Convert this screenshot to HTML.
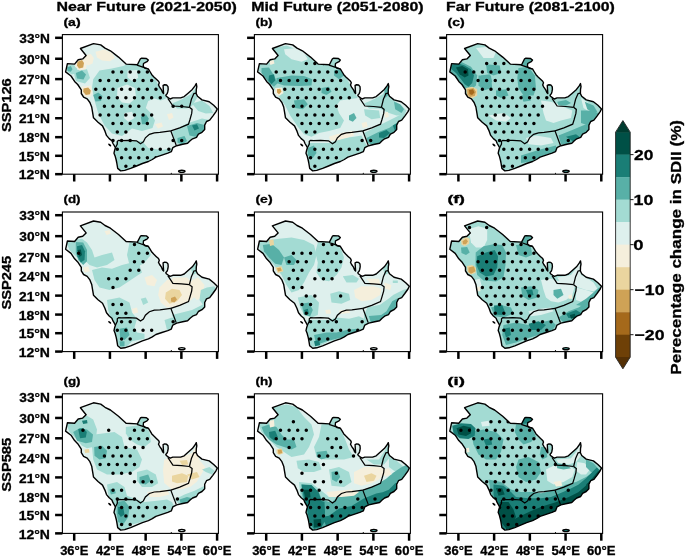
<!DOCTYPE html><html><head><meta charset="utf-8"><style>
html,body{margin:0;padding:0;background:#fff;}
svg{display:block;}
.t{will-change:transform;}
text{font-family:"Liberation Sans",sans-serif;font-weight:bold;fill:#000;stroke:#000;stroke-width:0.3px;}
</style></head><body>
<svg width="685" height="556" viewBox="0 0 685 556">
<defs>
<clipPath id="land"><path d="M67.4,63.6 L74.6,64.1 L78.2,59.8 L82.7,58.9 L86.1,55.5 L80.4,48.5 L93.5,43.6 L100.7,44.9 L105.0,48.1 L110.4,50.8 L118.5,57.1 L126.1,64.1 L137.4,64.7 L140.4,58.8 L141.7,58.2 L146.4,58.5 L148.3,60.1 L147.0,61.7 L145.1,62.6 L143.5,63.5 L143.2,66.4 L145.1,68.3 L148.3,68.9 L150.2,72.0 L151.8,74.7 L153.9,76.9 L156.1,79.0 L158.5,81.2 L159.3,82.8 L158.5,85.0 L159.6,87.1 L161.5,89.8 L162.6,92.5 L163.6,93.5 L163.3,89.0 L163.1,85.5 L164.7,84.7 L166.6,85.0 L168.0,86.6 L168.2,89.3 L167.7,92.0 L167.2,93.6 L165.8,95.2 L166.3,96.3 L168.5,97.9 L170.1,99.0 L172.8,97.9 L175.2,97.9 L180.6,97.9 L184.2,96.6 L187.8,93.4 L192.3,89.4 L195.0,85.8 L196.3,83.5 L196.8,86.7 L196.3,89.4 L196.2,93.6 L197.5,96.3 L202.0,99.9 L209.2,101.7 L213.7,105.3 L217.3,108.9 L216.0,111.6 L212.8,116.1 L209.7,120.2 L206.5,121.5 L204.7,125.1 L204.7,129.6 L202.0,132.3 L198.4,134.1 L196.5,137.3 L192.6,138.8 L190.1,140.8 L187.6,143.3 L182.7,144.3 L176.7,145.7 L172.8,147.7 L171.3,151.7 L167.8,153.2 L161.9,155.1 L155.9,157.1 L152.3,159.5 L148.4,161.5 L142.4,163.5 L136.5,166.0 L130.6,168.4 L124.7,170.4 L120.7,170.9 L117.7,168.4 L116.7,162.5 L116.2,160.0 L115.1,155.9 L114.0,153.2 L114.6,150.5 L115.4,147.8 L114.6,146.2 L113.0,143.5 L111.9,140.8 L109.2,138.6 L106.5,135.4 L104.9,130.9 L102.5,125.9 L98.0,122.3 L93.5,117.8 L92.6,112.4 L91.7,107.0 L89.9,102.5 L87.2,98.9 L83.6,97.1 L81.3,93.5 L81.3,89.9 L77.7,84.5 L74.6,81.4 L71.0,76.0 L65.6,71.9Z"/></clipPath>
<clipPath id="frame"><rect x="62.4" y="34.6" width="156.0" height="139.6"/></clipPath>
</defs>

<g transform="translate(0,0)">
<g clip-path="url(#land)"><rect x="62.4" y="34.6" width="156.0" height="139.6" fill="#def0ed"/>
<path d="M135.8,56.8 L149.5,56.8 L149.5,68.0 L135.8,65.5Z" fill="#a3dbd3"/>
<path d="M93.2,79.2 L99.5,70.5 L112.0,68.5 L123.2,66.0 L127.5,64.0 L144.5,64.5 L148.2,69.2 L154.5,78.0 L160.8,89.2 L167.0,98.0 L160.8,100.5 L154.5,98.5 L148.2,101.0 L145.8,108.0 L150.8,113.0 L155.0,120.5 L152.5,128.0 L142.0,131.0 L132.0,128.5 L122.0,136.0 L112.0,133.5 L104.5,125.5 L98.2,113.0 L94.5,100.5 L92.0,88.0Z" fill="#a3dbd3"/>
<path d="M115.8,141.8 L142.0,141.0 L148.2,148.0 L162.0,150.0 L172.0,148.0 L177.5,144.2 L179.5,151.0 L172.0,158.0 L157.0,163.0 L144.5,166.8 L132.0,170.5 L119.5,170.5 L114.5,158.0Z" fill="#a3dbd3"/>
<path d="M172.0,131.8 L187.0,123.5 L202.0,118.5 L212.0,120.5 L207.0,133.0 L202.0,138.5 L192.0,143.5 L182.0,146.0 L175.8,143.0Z" fill="#a3dbd3"/>
<path d="M172.0,103.5 L182.0,99.2 L190.8,94.2 L195.8,88.0 L197.0,98.0 L192.0,106.0 L187.0,108.5 L177.0,108.5Z" fill="#a3dbd3"/>
<path d="M192.0,103.5 L202.0,100.5 L209.5,106.0 L213.2,113.0 L205.8,113.5 L198.2,111.0Z" fill="#a3dbd3"/>
<path d="M73.2,70.0 L87.0,69.2 L90.0,78.0 L85.0,83.5 L75.8,81.0Z" fill="#a3dbd3"/>
<path d="M66.5,66.0 L72.0,64.2 L77.0,66.8 L77.0,73.0 L72.0,74.5 L67.5,72.0Z" fill="#a3dbd3"/>
<path d="M117.5,88.0 L127.0,84.5 L135.0,88.0 L136.0,98.0 L129.5,103.5 L122.0,102.5 L117.0,96.8Z" fill="#def0ed"/>
<path d="M127.5,70.5 L137.0,70.0 L138.2,78.0 L132.0,81.0 L127.5,77.5Z" fill="#def0ed"/>
<path d="M124.5,113.0 L132.0,111.8 L134.5,118.0 L128.2,121.8 L124.0,118.0Z" fill="#def0ed"/>
<path d="M93.2,95.0 L98.2,92.5 L102.5,96.0 L101.0,101.0 L95.5,101.5Z" fill="#58b0a7"/>
<path d="M140.8,116.8 L145.8,114.2 L148.8,118.5 L147.0,124.2 L142.0,124.2Z" fill="#58b0a7"/>
<path d="M75.8,73.0 L82.0,70.5 L86.0,74.5 L83.5,79.5 L77.0,78.5Z" fill="#58b0a7"/>
<path d="M187.0,126.0 L197.0,123.0 L206.2,125.5 L204.5,133.5 L197.0,137.0 L189.5,135.5Z" fill="#58b0a7"/>
<path d="M177.5,138.0 L184.5,136.0 L187.0,141.0 L182.0,144.5 L177.5,142.5Z" fill="#58b0a7"/>
<path d="M67.0,67.5 L70.8,66.0 L72.5,69.2 L70.8,71.8 L67.5,71.0Z" fill="#58b0a7"/>
<path d="M192.0,125.5 L197.0,124.2 L199.0,128.5 L194.5,130.5Z" fill="#1a7e76"/>
<path d="M95.5,51.8 L104.5,49.5 L112.0,53.0 L115.0,58.0 L110.0,61.2 L102.0,60.5 L97.0,57.5Z" fill="#f5efdc"/>
<path d="M84.5,55.5 L90.8,54.0 L93.8,58.0 L92.5,63.5 L88.0,65.5 L84.5,62.0Z" fill="#f5efdc"/>
<path d="M167.0,114.2 L172.0,113.0 L173.5,117.5 L169.0,120.0Z" fill="#f5efdc"/>
<path d="M155.0,124.2 L161.5,122.5 L163.0,126.5 L158.0,128.5Z" fill="#f5efdc"/>
<path d="M75.8,59.2 L84.5,58.0 L87.0,63.0 L85.8,69.2 L79.5,70.5 L75.0,66.8Z" fill="#f5efdc"/>
<path d="M81.5,86.8 L90.8,85.5 L92.5,91.8 L90.8,96.8 L84.0,96.8 L81.5,91.8Z" fill="#f5efdc"/>
<path d="M77.5,61.8 L82.0,60.0 L84.0,63.0 L83.2,67.5 L79.0,68.5 L77.0,65.5Z" fill="#cfa256"/>
<path d="M83.5,88.5 L88.2,87.5 L90.8,90.5 L90.0,94.2 L85.8,95.0 L83.2,91.8Z" fill="#cfa256"/>
</g>
<path d="M111.25,72.00a1.75,1.75 0 1,0 3.5,0a1.75,1.75 0 1,0 -3.5,0M119.84,72.00a1.75,1.75 0 1,0 3.5,0a1.75,1.75 0 1,0 -3.5,0M128.43,72.00a1.75,1.75 0 1,0 3.5,0a1.75,1.75 0 1,0 -3.5,0M137.02,72.00a1.75,1.75 0 1,0 3.5,0a1.75,1.75 0 1,0 -3.5,0M145.61,72.00a1.75,1.75 0 1,0 3.5,0a1.75,1.75 0 1,0 -3.5,0M98.37,80.58a1.75,1.75 0 1,0 3.5,0a1.75,1.75 0 1,0 -3.5,0M106.95,80.58a1.75,1.75 0 1,0 3.5,0a1.75,1.75 0 1,0 -3.5,0M115.55,80.58a1.75,1.75 0 1,0 3.5,0a1.75,1.75 0 1,0 -3.5,0M124.14,80.58a1.75,1.75 0 1,0 3.5,0a1.75,1.75 0 1,0 -3.5,0M132.72,80.58a1.75,1.75 0 1,0 3.5,0a1.75,1.75 0 1,0 -3.5,0M141.31,80.58a1.75,1.75 0 1,0 3.5,0a1.75,1.75 0 1,0 -3.5,0M149.91,80.58a1.75,1.75 0 1,0 3.5,0a1.75,1.75 0 1,0 -3.5,0M94.07,89.15a1.75,1.75 0 1,0 3.5,0a1.75,1.75 0 1,0 -3.5,0M102.66,89.15a1.75,1.75 0 1,0 3.5,0a1.75,1.75 0 1,0 -3.5,0M111.25,89.15a1.75,1.75 0 1,0 3.5,0a1.75,1.75 0 1,0 -3.5,0M119.84,89.15a1.75,1.75 0 1,0 3.5,0a1.75,1.75 0 1,0 -3.5,0M128.43,89.15a1.75,1.75 0 1,0 3.5,0a1.75,1.75 0 1,0 -3.5,0M137.02,89.15a1.75,1.75 0 1,0 3.5,0a1.75,1.75 0 1,0 -3.5,0M145.61,89.15a1.75,1.75 0 1,0 3.5,0a1.75,1.75 0 1,0 -3.5,0M154.20,89.15a1.75,1.75 0 1,0 3.5,0a1.75,1.75 0 1,0 -3.5,0M98.37,97.72a1.75,1.75 0 1,0 3.5,0a1.75,1.75 0 1,0 -3.5,0M106.95,97.72a1.75,1.75 0 1,0 3.5,0a1.75,1.75 0 1,0 -3.5,0M115.55,97.72a1.75,1.75 0 1,0 3.5,0a1.75,1.75 0 1,0 -3.5,0M124.14,97.72a1.75,1.75 0 1,0 3.5,0a1.75,1.75 0 1,0 -3.5,0M132.72,97.72a1.75,1.75 0 1,0 3.5,0a1.75,1.75 0 1,0 -3.5,0M141.31,97.72a1.75,1.75 0 1,0 3.5,0a1.75,1.75 0 1,0 -3.5,0M149.91,97.72a1.75,1.75 0 1,0 3.5,0a1.75,1.75 0 1,0 -3.5,0M158.50,97.72a1.75,1.75 0 1,0 3.5,0a1.75,1.75 0 1,0 -3.5,0M102.66,106.30a1.75,1.75 0 1,0 3.5,0a1.75,1.75 0 1,0 -3.5,0M111.25,106.30a1.75,1.75 0 1,0 3.5,0a1.75,1.75 0 1,0 -3.5,0M119.84,106.30a1.75,1.75 0 1,0 3.5,0a1.75,1.75 0 1,0 -3.5,0M128.43,106.30a1.75,1.75 0 1,0 3.5,0a1.75,1.75 0 1,0 -3.5,0M137.02,106.30a1.75,1.75 0 1,0 3.5,0a1.75,1.75 0 1,0 -3.5,0M171.38,106.30a1.75,1.75 0 1,0 3.5,0a1.75,1.75 0 1,0 -3.5,0M179.97,106.30a1.75,1.75 0 1,0 3.5,0a1.75,1.75 0 1,0 -3.5,0M98.37,114.88a1.75,1.75 0 1,0 3.5,0a1.75,1.75 0 1,0 -3.5,0M106.95,114.88a1.75,1.75 0 1,0 3.5,0a1.75,1.75 0 1,0 -3.5,0M115.55,114.88a1.75,1.75 0 1,0 3.5,0a1.75,1.75 0 1,0 -3.5,0M124.14,114.88a1.75,1.75 0 1,0 3.5,0a1.75,1.75 0 1,0 -3.5,0M132.72,114.88a1.75,1.75 0 1,0 3.5,0a1.75,1.75 0 1,0 -3.5,0M141.31,114.88a1.75,1.75 0 1,0 3.5,0a1.75,1.75 0 1,0 -3.5,0M149.91,114.88a1.75,1.75 0 1,0 3.5,0a1.75,1.75 0 1,0 -3.5,0M111.25,123.45a1.75,1.75 0 1,0 3.5,0a1.75,1.75 0 1,0 -3.5,0M119.84,123.45a1.75,1.75 0 1,0 3.5,0a1.75,1.75 0 1,0 -3.5,0M128.43,123.45a1.75,1.75 0 1,0 3.5,0a1.75,1.75 0 1,0 -3.5,0M137.02,123.45a1.75,1.75 0 1,0 3.5,0a1.75,1.75 0 1,0 -3.5,0M145.61,123.45a1.75,1.75 0 1,0 3.5,0a1.75,1.75 0 1,0 -3.5,0M115.55,132.02a1.75,1.75 0 1,0 3.5,0a1.75,1.75 0 1,0 -3.5,0M124.14,132.02a1.75,1.75 0 1,0 3.5,0a1.75,1.75 0 1,0 -3.5,0M111.25,140.60a1.75,1.75 0 1,0 3.5,0a1.75,1.75 0 1,0 -3.5,0M119.84,140.60a1.75,1.75 0 1,0 3.5,0a1.75,1.75 0 1,0 -3.5,0M128.43,140.60a1.75,1.75 0 1,0 3.5,0a1.75,1.75 0 1,0 -3.5,0M171.38,140.60a1.75,1.75 0 1,0 3.5,0a1.75,1.75 0 1,0 -3.5,0M179.97,140.60a1.75,1.75 0 1,0 3.5,0a1.75,1.75 0 1,0 -3.5,0M115.55,149.18a1.75,1.75 0 1,0 3.5,0a1.75,1.75 0 1,0 -3.5,0M124.14,149.18a1.75,1.75 0 1,0 3.5,0a1.75,1.75 0 1,0 -3.5,0M132.72,149.18a1.75,1.75 0 1,0 3.5,0a1.75,1.75 0 1,0 -3.5,0M141.31,149.18a1.75,1.75 0 1,0 3.5,0a1.75,1.75 0 1,0 -3.5,0M149.91,149.18a1.75,1.75 0 1,0 3.5,0a1.75,1.75 0 1,0 -3.5,0M158.50,149.18a1.75,1.75 0 1,0 3.5,0a1.75,1.75 0 1,0 -3.5,0M167.09,149.18a1.75,1.75 0 1,0 3.5,0a1.75,1.75 0 1,0 -3.5,0M175.68,149.18a1.75,1.75 0 1,0 3.5,0a1.75,1.75 0 1,0 -3.5,0M119.84,157.75a1.75,1.75 0 1,0 3.5,0a1.75,1.75 0 1,0 -3.5,0M128.43,157.75a1.75,1.75 0 1,0 3.5,0a1.75,1.75 0 1,0 -3.5,0M137.02,157.75a1.75,1.75 0 1,0 3.5,0a1.75,1.75 0 1,0 -3.5,0M145.61,157.75a1.75,1.75 0 1,0 3.5,0a1.75,1.75 0 1,0 -3.5,0M154.20,157.75a1.75,1.75 0 1,0 3.5,0a1.75,1.75 0 1,0 -3.5,0M124.14,166.32a1.75,1.75 0 1,0 3.5,0a1.75,1.75 0 1,0 -3.5,0M132.72,166.32a1.75,1.75 0 1,0 3.5,0a1.75,1.75 0 1,0 -3.5,0" fill="#000" clip-path="url(#land)"/>
<path d="M67.4,63.6 L74.6,64.1 L78.2,59.8 L82.7,58.9 L86.1,55.5 L80.4,48.5 L93.5,43.6 L100.7,44.9 L105.0,48.1 L110.4,50.8 L118.5,57.1 L126.1,64.1 L137.4,64.7 L140.4,58.8 L141.7,58.2 L146.4,58.5 L148.3,60.1 L147.0,61.7 L145.1,62.6 L143.5,63.5 L143.2,66.4 L145.1,68.3 L148.3,68.9 L150.2,72.0 L151.8,74.7 L153.9,76.9 L156.1,79.0 L158.5,81.2 L159.3,82.8 L158.5,85.0 L159.6,87.1 L161.5,89.8 L162.6,92.5 L163.6,93.5 L163.3,89.0 L163.1,85.5 L164.7,84.7 L166.6,85.0 L168.0,86.6 L168.2,89.3 L167.7,92.0 L167.2,93.6 L165.8,95.2 L166.3,96.3 L168.5,97.9 L170.1,99.0 L172.8,97.9 L175.2,97.9 L180.6,97.9 L184.2,96.6 L187.8,93.4 L192.3,89.4 L195.0,85.8 L196.3,83.5 L196.8,86.7 L196.3,89.4 L196.2,93.6 L197.5,96.3 L202.0,99.9 L209.2,101.7 L213.7,105.3 L217.3,108.9 L216.0,111.6 L212.8,116.1 L209.7,120.2 L206.5,121.5 L204.7,125.1 L204.7,129.6 L202.0,132.3 L198.4,134.1 L196.5,137.3 L192.6,138.8 L190.1,140.8 L187.6,143.3 L182.7,144.3 L176.7,145.7 L172.8,147.7 L171.3,151.7 L167.8,153.2 L161.9,155.1 L155.9,157.1 L152.3,159.5 L148.4,161.5 L142.4,163.5 L136.5,166.0 L130.6,168.4 L124.7,170.4 L120.7,170.9 L117.7,168.4 L116.7,162.5 L116.2,160.0 L115.1,155.9 L114.0,153.2 L114.6,150.5 L115.4,147.8 L114.6,146.2 L113.0,143.5 L111.9,140.8 L109.2,138.6 L106.5,135.4 L104.9,130.9 L102.5,125.9 L98.0,122.3 L93.5,117.8 L92.6,112.4 L91.7,107.0 L89.9,102.5 L87.2,98.9 L83.6,97.1 L81.3,93.5 L81.3,89.9 L77.7,84.5 L74.6,81.4 L71.0,76.0 L65.6,71.9Z" fill="none" stroke="#000" stroke-width="1.4" stroke-linejoin="round"/>
<path d="M137.0,65.1 L148.0,68.9" fill="none" stroke="#000" stroke-width="1.25"/>
<path d="M167.8,98.3 L172.9,106.0 L181.5,106.5 L189.4,107.3" fill="none" stroke="#000" stroke-width="1.25"/>
<path d="M189.4,107.3 L191.4,99.3 L193.9,93.6 L196.2,93.2" fill="none" stroke="#000" stroke-width="1.25"/>
<path d="M189.4,107.3 L192.1,109.4 L191.7,113.4 L189.9,119.7 L188.5,124.2 L179.7,127.9 L170.8,130.9" fill="none" stroke="#000" stroke-width="1.25"/>
<path d="M170.8,130.9 L176.2,145.2" fill="none" stroke="#000" stroke-width="1.25"/>
<path d="M115.4,147.8 L117.3,144.0 L117.3,141.3 L118.6,140.3 L121.6,140.5 L128.6,140.3 L136.5,140.8 L140.5,143.7 L143.4,141.7 L145.4,137.8 L149.4,134.3 L154.3,132.8 L159.9,132.4 L170.8,130.9" fill="none" stroke="#000" stroke-width="1.25"/>
<ellipse cx="181.8" cy="171.3" rx="3.2" ry="1.1" fill="#def0ed" stroke="#000" stroke-width="1.4"/>
<circle cx="171.3" cy="173.3" r="0.6" fill="#000"/>
<ellipse cx="109.7" cy="145.0" rx="1.9" ry="0.9" transform="rotate(40 109.7 145.0)" fill="#000"/>
<rect x="62.4" y="34.6" width="156.0" height="139.6" fill="none" stroke="#000" stroke-width="1.1"/>
<line x1="55.1" y1="174.17" x2="62.4" y2="174.17" stroke="#000" stroke-width="2.5"/>
<line x1="55.1" y1="155.80" x2="62.4" y2="155.80" stroke="#000" stroke-width="2.5"/>
<line x1="55.1" y1="137.17" x2="62.4" y2="137.17" stroke="#000" stroke-width="2.5"/>
<line x1="55.1" y1="118.22" x2="62.4" y2="118.22" stroke="#000" stroke-width="2.5"/>
<line x1="55.1" y1="98.88" x2="62.4" y2="98.88" stroke="#000" stroke-width="2.5"/>
<line x1="55.1" y1="79.09" x2="62.4" y2="79.09" stroke="#000" stroke-width="2.5"/>
<line x1="55.1" y1="58.76" x2="62.4" y2="58.76" stroke="#000" stroke-width="2.5"/>
<line x1="55.1" y1="37.81" x2="62.4" y2="37.81" stroke="#000" stroke-width="2.5"/>
<line x1="74.20" y1="174.2" x2="74.20" y2="181.5" stroke="#000" stroke-width="2.5"/>
<line x1="109.92" y1="174.2" x2="109.92" y2="181.5" stroke="#000" stroke-width="2.5"/>
<line x1="145.65" y1="174.2" x2="145.65" y2="181.5" stroke="#000" stroke-width="2.5"/>
<line x1="181.37" y1="174.2" x2="181.37" y2="181.5" stroke="#000" stroke-width="2.5"/>
<line x1="217.10" y1="174.2" x2="217.10" y2="181.5" stroke="#000" stroke-width="2.5"/>
</g>
<g transform="translate(192.0,0)">
<g clip-path="url(#land)"><rect x="62.4" y="34.6" width="156.0" height="139.6" fill="#def0ed"/>
<path d="M135.8,56.8 L149.5,56.8 L149.5,68.0 L135.8,65.5Z" fill="#a3dbd3"/>
<path d="M66.5,64.2 L77.0,61.8 L80.8,48.0 L94.5,45.5 L107.0,50.5 L122.0,60.5 L127.0,64.0 L144.5,64.5 L148.2,69.2 L154.5,78.0 L160.8,89.2 L165.8,98.0 L157.0,99.2 L148.2,100.5 L144.5,105.5 L147.0,113.0 L152.0,120.5 L148.2,128.0 L137.0,131.0 L127.0,133.0 L119.5,136.8 L112.0,134.2 L105.8,126.8 L98.2,115.5 L93.2,105.5 L87.0,96.8 L79.5,85.5 L72.0,75.5 L66.5,70.5Z" fill="#a3dbd3"/>
<path d="M115.8,143.0 L137.0,143.0 L144.5,140.5 L152.0,138.0 L162.0,136.8 L169.5,135.5 L173.2,143.0 L177.0,148.0 L167.0,155.5 L154.5,160.5 L142.0,164.2 L129.5,169.2 L119.5,170.0 L114.5,158.0Z" fill="#a3dbd3"/>
<path d="M172.0,133.0 L187.0,125.5 L202.0,118.0 L212.0,113.0 L214.5,118.0 L207.0,133.0 L202.0,138.5 L192.0,143.5 L182.0,146.0 L175.8,143.0Z" fill="#a3dbd3"/>
<path d="M172.0,103.5 L182.0,99.2 L190.8,94.2 L195.8,85.5 L198.2,95.5 L202.0,100.5 L209.5,105.5 L214.5,110.5 L212.0,115.5 L204.5,115.5 L197.0,113.0 L192.0,110.5 L187.0,108.5 L177.0,108.5Z" fill="#a3dbd3"/>
<path d="M172.0,109.2 L187.0,110.5 L188.2,118.0 L179.5,119.2 L173.2,115.5Z" fill="#a3dbd3"/>
<path d="M92.0,49.2 L104.5,48.0 L112.0,53.0 L115.8,59.2 L109.5,61.8 L99.5,59.2 L93.2,54.2Z" fill="#def0ed"/>
<path d="M69.5,68.0 L77.0,67.5 L82.0,75.5 L85.8,83.0 L82.0,86.8 L77.0,83.0 L73.2,78.0 L69.5,73.0Z" fill="#58b0a7"/>
<path d="M84.5,78.0 L99.5,75.5 L112.0,76.0 L120.2,79.2 L119.5,85.5 L107.0,86.0 L92.0,85.5 L84.5,83.0Z" fill="#58b0a7"/>
<path d="M102.0,100.5 L112.0,99.2 L115.8,104.2 L110.8,109.2 L103.2,108.0Z" fill="#58b0a7"/>
<path d="M129.5,88.0 L137.0,86.8 L139.5,91.8 L134.5,95.0 L129.5,93.0Z" fill="#58b0a7"/>
<path d="M142.0,70.5 L148.2,69.2 L152.0,75.5 L147.0,79.2 L142.0,75.5Z" fill="#58b0a7"/>
<path d="M174.5,138.0 L187.0,131.8 L197.0,128.0 L204.5,123.0 L209.5,120.5 L208.2,130.5 L202.0,136.8 L192.0,143.0 L182.0,145.5 L175.8,143.0Z" fill="#58b0a7"/>
<path d="M202.0,101.8 L208.2,104.2 L212.0,109.2 L209.5,113.0 L203.2,109.2Z" fill="#58b0a7"/>
<path d="M192.0,88.0 L195.8,85.5 L197.0,94.2 L193.2,98.0Z" fill="#58b0a7"/>
<path d="M157.0,115.5 L162.0,113.0 L164.5,118.0 L160.8,121.8 L157.0,120.0Z" fill="#58b0a7"/>
<path d="M115.8,148.0 L122.0,145.5 L124.5,153.0 L120.8,158.0 L115.8,155.5Z" fill="#58b0a7"/>
<path d="M77.0,75.5 L82.0,74.2 L83.2,80.5 L79.5,84.2 L76.5,80.5Z" fill="#1a7e76"/>
<path d="M187.0,133.0 L194.5,130.0 L198.2,133.0 L192.0,138.0 L187.0,137.5Z" fill="#1a7e76"/>
<path d="M200.8,125.5 L205.8,123.0 L207.0,128.0 L203.2,131.0Z" fill="#1a7e76"/>
<path d="M137.0,136.8 L144.5,134.2 L152.0,132.5 L160.8,131.0 L162.0,135.5 L154.5,138.0 L144.5,140.5 L138.2,140.5Z" fill="#f5efdc"/>
<path d="M169.5,123.0 L174.5,121.8 L175.8,126.8 L170.8,128.0Z" fill="#f5efdc"/>
<path d="M192.0,113.0 L195.8,111.8 L197.0,116.8 L193.2,118.0Z" fill="#f5efdc"/>
<path d="M83.2,88.0 L90.0,87.5 L91.5,93.0 L87.0,96.0 L83.2,93.5Z" fill="#f5efdc"/>
<path d="M77.0,61.0 L81.5,60.0 L82.5,63.5 L78.5,65.0Z" fill="#f5efdc"/>
<path d="M85.0,89.2 L88.2,88.8 L89.5,91.8 L87.0,94.2 L85.0,92.5Z" fill="#cfa256"/>
</g>
<path d="M112.52,63.42a1.75,1.75 0 1,0 3.5,0a1.75,1.75 0 1,0 -3.5,0M121.12,63.42a1.75,1.75 0 1,0 3.5,0a1.75,1.75 0 1,0 -3.5,0M129.70,63.42a1.75,1.75 0 1,0 3.5,0a1.75,1.75 0 1,0 -3.5,0M82.46,72.00a1.75,1.75 0 1,0 3.5,0a1.75,1.75 0 1,0 -3.5,0M91.05,72.00a1.75,1.75 0 1,0 3.5,0a1.75,1.75 0 1,0 -3.5,0M99.64,72.00a1.75,1.75 0 1,0 3.5,0a1.75,1.75 0 1,0 -3.5,0M108.23,72.00a1.75,1.75 0 1,0 3.5,0a1.75,1.75 0 1,0 -3.5,0M116.82,72.00a1.75,1.75 0 1,0 3.5,0a1.75,1.75 0 1,0 -3.5,0M125.41,72.00a1.75,1.75 0 1,0 3.5,0a1.75,1.75 0 1,0 -3.5,0M134.00,72.00a1.75,1.75 0 1,0 3.5,0a1.75,1.75 0 1,0 -3.5,0M142.59,72.00a1.75,1.75 0 1,0 3.5,0a1.75,1.75 0 1,0 -3.5,0M86.75,80.58a1.75,1.75 0 1,0 3.5,0a1.75,1.75 0 1,0 -3.5,0M95.35,80.58a1.75,1.75 0 1,0 3.5,0a1.75,1.75 0 1,0 -3.5,0M103.94,80.58a1.75,1.75 0 1,0 3.5,0a1.75,1.75 0 1,0 -3.5,0M112.52,80.58a1.75,1.75 0 1,0 3.5,0a1.75,1.75 0 1,0 -3.5,0M121.12,80.58a1.75,1.75 0 1,0 3.5,0a1.75,1.75 0 1,0 -3.5,0M129.70,80.58a1.75,1.75 0 1,0 3.5,0a1.75,1.75 0 1,0 -3.5,0M138.30,80.58a1.75,1.75 0 1,0 3.5,0a1.75,1.75 0 1,0 -3.5,0M146.88,80.58a1.75,1.75 0 1,0 3.5,0a1.75,1.75 0 1,0 -3.5,0M91.05,89.15a1.75,1.75 0 1,0 3.5,0a1.75,1.75 0 1,0 -3.5,0M99.64,89.15a1.75,1.75 0 1,0 3.5,0a1.75,1.75 0 1,0 -3.5,0M108.23,89.15a1.75,1.75 0 1,0 3.5,0a1.75,1.75 0 1,0 -3.5,0M116.82,89.15a1.75,1.75 0 1,0 3.5,0a1.75,1.75 0 1,0 -3.5,0M125.41,89.15a1.75,1.75 0 1,0 3.5,0a1.75,1.75 0 1,0 -3.5,0M134.00,89.15a1.75,1.75 0 1,0 3.5,0a1.75,1.75 0 1,0 -3.5,0M142.59,89.15a1.75,1.75 0 1,0 3.5,0a1.75,1.75 0 1,0 -3.5,0M151.18,89.15a1.75,1.75 0 1,0 3.5,0a1.75,1.75 0 1,0 -3.5,0M95.35,97.72a1.75,1.75 0 1,0 3.5,0a1.75,1.75 0 1,0 -3.5,0M103.94,97.72a1.75,1.75 0 1,0 3.5,0a1.75,1.75 0 1,0 -3.5,0M112.52,97.72a1.75,1.75 0 1,0 3.5,0a1.75,1.75 0 1,0 -3.5,0M121.12,97.72a1.75,1.75 0 1,0 3.5,0a1.75,1.75 0 1,0 -3.5,0M129.70,97.72a1.75,1.75 0 1,0 3.5,0a1.75,1.75 0 1,0 -3.5,0M138.30,97.72a1.75,1.75 0 1,0 3.5,0a1.75,1.75 0 1,0 -3.5,0M146.88,97.72a1.75,1.75 0 1,0 3.5,0a1.75,1.75 0 1,0 -3.5,0M155.48,97.72a1.75,1.75 0 1,0 3.5,0a1.75,1.75 0 1,0 -3.5,0M99.64,106.30a1.75,1.75 0 1,0 3.5,0a1.75,1.75 0 1,0 -3.5,0M108.23,106.30a1.75,1.75 0 1,0 3.5,0a1.75,1.75 0 1,0 -3.5,0M116.82,106.30a1.75,1.75 0 1,0 3.5,0a1.75,1.75 0 1,0 -3.5,0M125.41,106.30a1.75,1.75 0 1,0 3.5,0a1.75,1.75 0 1,0 -3.5,0M134.00,106.30a1.75,1.75 0 1,0 3.5,0a1.75,1.75 0 1,0 -3.5,0M142.59,106.30a1.75,1.75 0 1,0 3.5,0a1.75,1.75 0 1,0 -3.5,0M103.94,114.88a1.75,1.75 0 1,0 3.5,0a1.75,1.75 0 1,0 -3.5,0M112.52,114.88a1.75,1.75 0 1,0 3.5,0a1.75,1.75 0 1,0 -3.5,0M121.12,114.88a1.75,1.75 0 1,0 3.5,0a1.75,1.75 0 1,0 -3.5,0M129.70,114.88a1.75,1.75 0 1,0 3.5,0a1.75,1.75 0 1,0 -3.5,0M138.30,114.88a1.75,1.75 0 1,0 3.5,0a1.75,1.75 0 1,0 -3.5,0M108.23,123.45a1.75,1.75 0 1,0 3.5,0a1.75,1.75 0 1,0 -3.5,0M116.82,123.45a1.75,1.75 0 1,0 3.5,0a1.75,1.75 0 1,0 -3.5,0M125.41,123.45a1.75,1.75 0 1,0 3.5,0a1.75,1.75 0 1,0 -3.5,0M134.00,123.45a1.75,1.75 0 1,0 3.5,0a1.75,1.75 0 1,0 -3.5,0M142.59,123.45a1.75,1.75 0 1,0 3.5,0a1.75,1.75 0 1,0 -3.5,0M112.52,132.02a1.75,1.75 0 1,0 3.5,0a1.75,1.75 0 1,0 -3.5,0M121.12,132.02a1.75,1.75 0 1,0 3.5,0a1.75,1.75 0 1,0 -3.5,0M168.36,140.60a1.75,1.75 0 1,0 3.5,0a1.75,1.75 0 1,0 -3.5,0M176.95,140.60a1.75,1.75 0 1,0 3.5,0a1.75,1.75 0 1,0 -3.5,0M121.12,149.18a1.75,1.75 0 1,0 3.5,0a1.75,1.75 0 1,0 -3.5,0M129.70,149.18a1.75,1.75 0 1,0 3.5,0a1.75,1.75 0 1,0 -3.5,0M138.30,149.18a1.75,1.75 0 1,0 3.5,0a1.75,1.75 0 1,0 -3.5,0M146.88,149.18a1.75,1.75 0 1,0 3.5,0a1.75,1.75 0 1,0 -3.5,0M155.48,149.18a1.75,1.75 0 1,0 3.5,0a1.75,1.75 0 1,0 -3.5,0M164.06,149.18a1.75,1.75 0 1,0 3.5,0a1.75,1.75 0 1,0 -3.5,0M116.82,157.75a1.75,1.75 0 1,0 3.5,0a1.75,1.75 0 1,0 -3.5,0M125.41,157.75a1.75,1.75 0 1,0 3.5,0a1.75,1.75 0 1,0 -3.5,0M134.00,157.75a1.75,1.75 0 1,0 3.5,0a1.75,1.75 0 1,0 -3.5,0M142.59,157.75a1.75,1.75 0 1,0 3.5,0a1.75,1.75 0 1,0 -3.5,0M121.12,166.32a1.75,1.75 0 1,0 3.5,0a1.75,1.75 0 1,0 -3.5,0" fill="#000" clip-path="url(#land)"/>
<path d="M67.4,63.6 L74.6,64.1 L78.2,59.8 L82.7,58.9 L86.1,55.5 L80.4,48.5 L93.5,43.6 L100.7,44.9 L105.0,48.1 L110.4,50.8 L118.5,57.1 L126.1,64.1 L137.4,64.7 L140.4,58.8 L141.7,58.2 L146.4,58.5 L148.3,60.1 L147.0,61.7 L145.1,62.6 L143.5,63.5 L143.2,66.4 L145.1,68.3 L148.3,68.9 L150.2,72.0 L151.8,74.7 L153.9,76.9 L156.1,79.0 L158.5,81.2 L159.3,82.8 L158.5,85.0 L159.6,87.1 L161.5,89.8 L162.6,92.5 L163.6,93.5 L163.3,89.0 L163.1,85.5 L164.7,84.7 L166.6,85.0 L168.0,86.6 L168.2,89.3 L167.7,92.0 L167.2,93.6 L165.8,95.2 L166.3,96.3 L168.5,97.9 L170.1,99.0 L172.8,97.9 L175.2,97.9 L180.6,97.9 L184.2,96.6 L187.8,93.4 L192.3,89.4 L195.0,85.8 L196.3,83.5 L196.8,86.7 L196.3,89.4 L196.2,93.6 L197.5,96.3 L202.0,99.9 L209.2,101.7 L213.7,105.3 L217.3,108.9 L216.0,111.6 L212.8,116.1 L209.7,120.2 L206.5,121.5 L204.7,125.1 L204.7,129.6 L202.0,132.3 L198.4,134.1 L196.5,137.3 L192.6,138.8 L190.1,140.8 L187.6,143.3 L182.7,144.3 L176.7,145.7 L172.8,147.7 L171.3,151.7 L167.8,153.2 L161.9,155.1 L155.9,157.1 L152.3,159.5 L148.4,161.5 L142.4,163.5 L136.5,166.0 L130.6,168.4 L124.7,170.4 L120.7,170.9 L117.7,168.4 L116.7,162.5 L116.2,160.0 L115.1,155.9 L114.0,153.2 L114.6,150.5 L115.4,147.8 L114.6,146.2 L113.0,143.5 L111.9,140.8 L109.2,138.6 L106.5,135.4 L104.9,130.9 L102.5,125.9 L98.0,122.3 L93.5,117.8 L92.6,112.4 L91.7,107.0 L89.9,102.5 L87.2,98.9 L83.6,97.1 L81.3,93.5 L81.3,89.9 L77.7,84.5 L74.6,81.4 L71.0,76.0 L65.6,71.9Z" fill="none" stroke="#000" stroke-width="1.4" stroke-linejoin="round"/>
<path d="M137.0,65.1 L148.0,68.9" fill="none" stroke="#000" stroke-width="1.25"/>
<path d="M167.8,98.3 L172.9,106.0 L181.5,106.5 L189.4,107.3" fill="none" stroke="#000" stroke-width="1.25"/>
<path d="M189.4,107.3 L191.4,99.3 L193.9,93.6 L196.2,93.2" fill="none" stroke="#000" stroke-width="1.25"/>
<path d="M189.4,107.3 L192.1,109.4 L191.7,113.4 L189.9,119.7 L188.5,124.2 L179.7,127.9 L170.8,130.9" fill="none" stroke="#000" stroke-width="1.25"/>
<path d="M170.8,130.9 L176.2,145.2" fill="none" stroke="#000" stroke-width="1.25"/>
<path d="M115.4,147.8 L117.3,144.0 L117.3,141.3 L118.6,140.3 L121.6,140.5 L128.6,140.3 L136.5,140.8 L140.5,143.7 L143.4,141.7 L145.4,137.8 L149.4,134.3 L154.3,132.8 L159.9,132.4 L170.8,130.9" fill="none" stroke="#000" stroke-width="1.25"/>
<ellipse cx="181.8" cy="171.3" rx="3.2" ry="1.1" fill="#a3dbd3" stroke="#000" stroke-width="1.4"/>
<circle cx="171.3" cy="173.3" r="0.6" fill="#000"/>
<ellipse cx="109.7" cy="145.0" rx="1.9" ry="0.9" transform="rotate(40 109.7 145.0)" fill="#000"/>
<rect x="62.4" y="34.6" width="156.0" height="139.6" fill="none" stroke="#000" stroke-width="1.1"/>
<line x1="55.1" y1="174.17" x2="62.4" y2="174.17" stroke="#000" stroke-width="2.5"/>
<line x1="55.1" y1="155.80" x2="62.4" y2="155.80" stroke="#000" stroke-width="2.5"/>
<line x1="55.1" y1="137.17" x2="62.4" y2="137.17" stroke="#000" stroke-width="2.5"/>
<line x1="55.1" y1="118.22" x2="62.4" y2="118.22" stroke="#000" stroke-width="2.5"/>
<line x1="55.1" y1="98.88" x2="62.4" y2="98.88" stroke="#000" stroke-width="2.5"/>
<line x1="55.1" y1="79.09" x2="62.4" y2="79.09" stroke="#000" stroke-width="2.5"/>
<line x1="55.1" y1="58.76" x2="62.4" y2="58.76" stroke="#000" stroke-width="2.5"/>
<line x1="55.1" y1="37.81" x2="62.4" y2="37.81" stroke="#000" stroke-width="2.5"/>
<line x1="74.20" y1="174.2" x2="74.20" y2="181.5" stroke="#000" stroke-width="2.5"/>
<line x1="109.92" y1="174.2" x2="109.92" y2="181.5" stroke="#000" stroke-width="2.5"/>
<line x1="145.65" y1="174.2" x2="145.65" y2="181.5" stroke="#000" stroke-width="2.5"/>
<line x1="181.37" y1="174.2" x2="181.37" y2="181.5" stroke="#000" stroke-width="2.5"/>
<line x1="217.10" y1="174.2" x2="217.10" y2="181.5" stroke="#000" stroke-width="2.5"/>
</g>
<g transform="translate(384.2,0)">
<g clip-path="url(#land)"><rect x="62.4" y="34.6" width="156.0" height="139.6" fill="#a3dbd3"/>
<path d="M135.6,56.8 L149.3,56.8 L149.3,68.0 L135.6,65.5Z" fill="#58b0a7"/>
<path d="M91.8,48.0 L104.3,46.8 L111.8,51.8 L109.3,58.0 L99.3,58.0Z" fill="#def0ed"/>
<path d="M156.8,100.5 L166.8,101.8 L171.8,103.5 L181.8,108.0 L188.1,110.5 L186.8,118.0 L176.8,120.5 L169.3,123.0 L161.8,120.5 L159.3,113.0Z" fill="#def0ed"/>
<path d="M104.3,115.5 L119.3,113.0 L126.8,118.0 L121.8,121.8 L111.8,120.5Z" fill="#def0ed"/>
<path d="M141.8,138.0 L151.8,135.5 L166.8,138.0 L169.3,143.0 L156.8,145.5 L144.3,144.2Z" fill="#def0ed"/>
<path d="M196.8,98.0 L204.3,103.0 L210.6,110.5 L206.8,113.0 L199.3,108.0Z" fill="#def0ed"/>
<path d="M65.5,64.2 L76.8,61.8 L86.8,66.8 L93.0,75.5 L91.8,85.5 L85.5,90.5 L79.3,86.8 L71.8,78.0 L65.5,70.5Z" fill="#58b0a7"/>
<path d="M96.8,75.5 L105.5,74.2 L108.0,81.8 L101.8,85.5 L96.8,83.0Z" fill="#58b0a7"/>
<path d="M134.3,68.0 L144.3,66.8 L150.6,75.5 L151.8,88.0 L149.3,95.5 L139.3,95.5 L134.3,88.0 L133.1,78.0Z" fill="#58b0a7"/>
<path d="M101.8,64.2 L115.5,65.5 L116.8,73.0 L109.3,75.5 L103.0,73.0Z" fill="#58b0a7"/>
<path d="M94.3,75.5 L106.8,75.5 L108.0,88.0 L99.3,90.5 L94.3,85.5Z" fill="#58b0a7"/>
<path d="M111.8,90.5 L121.8,89.2 L124.3,95.5 L116.8,98.0 L111.8,95.5Z" fill="#58b0a7"/>
<path d="M136.8,95.5 L144.3,94.2 L146.8,100.5 L139.3,101.8Z" fill="#58b0a7"/>
<path d="M136.8,155.5 L156.8,149.2 L171.8,145.5 L173.1,153.0 L161.8,156.8 L146.8,161.8 L136.8,163.0Z" fill="#58b0a7"/>
<path d="M174.3,135.5 L186.8,130.5 L201.8,124.2 L209.3,120.5 L206.8,130.5 L196.8,138.0 L184.3,144.2 L176.8,144.2Z" fill="#58b0a7"/>
<path d="M173.1,101.8 L181.8,100.0 L186.8,103.0 L181.8,105.5 L174.3,105.5Z" fill="#58b0a7"/>
<path d="M200.6,101.8 L209.3,105.5 L213.1,111.8 L209.3,113.0 L203.1,109.2Z" fill="#58b0a7"/>
<path d="M196.8,110.5 L206.8,110.5 L214.3,113.0 L211.8,120.5 L204.3,125.5 L196.8,123.0Z" fill="#58b0a7"/>
<path d="M66.8,65.5 L73.0,63.0 L80.5,65.5 L86.8,69.2 L89.8,75.5 L88.0,83.0 L84.3,86.8 L80.5,84.2 L76.8,79.2 L71.8,73.0 L67.3,69.2Z" fill="#1a7e76"/>
<path d="M181.8,136.8 L191.8,134.2 L196.8,138.0 L189.3,141.8Z" fill="#1a7e76"/>
<path d="M71.8,67.5 L78.0,66.0 L83.8,69.2 L84.3,75.5 L80.5,77.5 L75.5,74.2Z" fill="#005046"/>
<path d="M81.8,88.0 L88.0,86.8 L93.0,89.2 L93.0,95.5 L88.0,98.5 L83.0,96.8Z" fill="#ead59f"/>
<path d="M83.0,89.2 L89.3,88.0 L91.8,91.8 L90.5,96.0 L85.5,97.0 L83.3,94.2Z" fill="#cfa256"/>
<path d="M84.8,90.0 L88.8,89.2 L90.3,92.5 L87.8,95.0 L85.3,94.0Z" fill="#a5691b"/>
</g>
<path d="M100.72,63.42a1.75,1.75 0 1,0 3.5,0a1.75,1.75 0 1,0 -3.5,0M109.31,63.42a1.75,1.75 0 1,0 3.5,0a1.75,1.75 0 1,0 -3.5,0M117.90,63.42a1.75,1.75 0 1,0 3.5,0a1.75,1.75 0 1,0 -3.5,0M79.24,72.00a1.75,1.75 0 1,0 3.5,0a1.75,1.75 0 1,0 -3.5,0M87.83,72.00a1.75,1.75 0 1,0 3.5,0a1.75,1.75 0 1,0 -3.5,0M96.42,72.00a1.75,1.75 0 1,0 3.5,0a1.75,1.75 0 1,0 -3.5,0M105.01,72.00a1.75,1.75 0 1,0 3.5,0a1.75,1.75 0 1,0 -3.5,0M113.60,72.00a1.75,1.75 0 1,0 3.5,0a1.75,1.75 0 1,0 -3.5,0M122.19,72.00a1.75,1.75 0 1,0 3.5,0a1.75,1.75 0 1,0 -3.5,0M130.78,72.00a1.75,1.75 0 1,0 3.5,0a1.75,1.75 0 1,0 -3.5,0M139.37,72.00a1.75,1.75 0 1,0 3.5,0a1.75,1.75 0 1,0 -3.5,0M92.12,80.58a1.75,1.75 0 1,0 3.5,0a1.75,1.75 0 1,0 -3.5,0M100.72,80.58a1.75,1.75 0 1,0 3.5,0a1.75,1.75 0 1,0 -3.5,0M109.31,80.58a1.75,1.75 0 1,0 3.5,0a1.75,1.75 0 1,0 -3.5,0M117.90,80.58a1.75,1.75 0 1,0 3.5,0a1.75,1.75 0 1,0 -3.5,0M126.48,80.58a1.75,1.75 0 1,0 3.5,0a1.75,1.75 0 1,0 -3.5,0M135.07,80.58a1.75,1.75 0 1,0 3.5,0a1.75,1.75 0 1,0 -3.5,0M143.67,80.58a1.75,1.75 0 1,0 3.5,0a1.75,1.75 0 1,0 -3.5,0M96.42,89.15a1.75,1.75 0 1,0 3.5,0a1.75,1.75 0 1,0 -3.5,0M105.01,89.15a1.75,1.75 0 1,0 3.5,0a1.75,1.75 0 1,0 -3.5,0M113.60,89.15a1.75,1.75 0 1,0 3.5,0a1.75,1.75 0 1,0 -3.5,0M122.19,89.15a1.75,1.75 0 1,0 3.5,0a1.75,1.75 0 1,0 -3.5,0M130.78,89.15a1.75,1.75 0 1,0 3.5,0a1.75,1.75 0 1,0 -3.5,0M139.37,89.15a1.75,1.75 0 1,0 3.5,0a1.75,1.75 0 1,0 -3.5,0M147.96,89.15a1.75,1.75 0 1,0 3.5,0a1.75,1.75 0 1,0 -3.5,0M100.72,97.72a1.75,1.75 0 1,0 3.5,0a1.75,1.75 0 1,0 -3.5,0M109.31,97.72a1.75,1.75 0 1,0 3.5,0a1.75,1.75 0 1,0 -3.5,0M117.90,97.72a1.75,1.75 0 1,0 3.5,0a1.75,1.75 0 1,0 -3.5,0M126.48,97.72a1.75,1.75 0 1,0 3.5,0a1.75,1.75 0 1,0 -3.5,0M135.07,97.72a1.75,1.75 0 1,0 3.5,0a1.75,1.75 0 1,0 -3.5,0M143.67,97.72a1.75,1.75 0 1,0 3.5,0a1.75,1.75 0 1,0 -3.5,0M152.25,97.72a1.75,1.75 0 1,0 3.5,0a1.75,1.75 0 1,0 -3.5,0M160.84,97.72a1.75,1.75 0 1,0 3.5,0a1.75,1.75 0 1,0 -3.5,0M96.42,106.30a1.75,1.75 0 1,0 3.5,0a1.75,1.75 0 1,0 -3.5,0M105.01,106.30a1.75,1.75 0 1,0 3.5,0a1.75,1.75 0 1,0 -3.5,0M113.60,106.30a1.75,1.75 0 1,0 3.5,0a1.75,1.75 0 1,0 -3.5,0M122.19,106.30a1.75,1.75 0 1,0 3.5,0a1.75,1.75 0 1,0 -3.5,0M130.78,106.30a1.75,1.75 0 1,0 3.5,0a1.75,1.75 0 1,0 -3.5,0M139.37,106.30a1.75,1.75 0 1,0 3.5,0a1.75,1.75 0 1,0 -3.5,0M147.96,106.30a1.75,1.75 0 1,0 3.5,0a1.75,1.75 0 1,0 -3.5,0M156.55,106.30a1.75,1.75 0 1,0 3.5,0a1.75,1.75 0 1,0 -3.5,0M100.72,114.88a1.75,1.75 0 1,0 3.5,0a1.75,1.75 0 1,0 -3.5,0M109.31,114.88a1.75,1.75 0 1,0 3.5,0a1.75,1.75 0 1,0 -3.5,0M117.90,114.88a1.75,1.75 0 1,0 3.5,0a1.75,1.75 0 1,0 -3.5,0M126.48,114.88a1.75,1.75 0 1,0 3.5,0a1.75,1.75 0 1,0 -3.5,0M135.07,114.88a1.75,1.75 0 1,0 3.5,0a1.75,1.75 0 1,0 -3.5,0M143.67,114.88a1.75,1.75 0 1,0 3.5,0a1.75,1.75 0 1,0 -3.5,0M152.25,114.88a1.75,1.75 0 1,0 3.5,0a1.75,1.75 0 1,0 -3.5,0M105.01,123.45a1.75,1.75 0 1,0 3.5,0a1.75,1.75 0 1,0 -3.5,0M113.60,123.45a1.75,1.75 0 1,0 3.5,0a1.75,1.75 0 1,0 -3.5,0M122.19,123.45a1.75,1.75 0 1,0 3.5,0a1.75,1.75 0 1,0 -3.5,0M130.78,123.45a1.75,1.75 0 1,0 3.5,0a1.75,1.75 0 1,0 -3.5,0M139.37,123.45a1.75,1.75 0 1,0 3.5,0a1.75,1.75 0 1,0 -3.5,0M147.96,123.45a1.75,1.75 0 1,0 3.5,0a1.75,1.75 0 1,0 -3.5,0M109.31,132.02a1.75,1.75 0 1,0 3.5,0a1.75,1.75 0 1,0 -3.5,0M117.90,132.02a1.75,1.75 0 1,0 3.5,0a1.75,1.75 0 1,0 -3.5,0M126.48,132.02a1.75,1.75 0 1,0 3.5,0a1.75,1.75 0 1,0 -3.5,0M135.07,132.02a1.75,1.75 0 1,0 3.5,0a1.75,1.75 0 1,0 -3.5,0M143.67,132.02a1.75,1.75 0 1,0 3.5,0a1.75,1.75 0 1,0 -3.5,0M113.60,140.60a1.75,1.75 0 1,0 3.5,0a1.75,1.75 0 1,0 -3.5,0M122.19,140.60a1.75,1.75 0 1,0 3.5,0a1.75,1.75 0 1,0 -3.5,0M182.32,140.60a1.75,1.75 0 1,0 3.5,0a1.75,1.75 0 1,0 -3.5,0M117.90,149.18a1.75,1.75 0 1,0 3.5,0a1.75,1.75 0 1,0 -3.5,0M126.48,149.18a1.75,1.75 0 1,0 3.5,0a1.75,1.75 0 1,0 -3.5,0M135.07,149.18a1.75,1.75 0 1,0 3.5,0a1.75,1.75 0 1,0 -3.5,0M143.67,149.18a1.75,1.75 0 1,0 3.5,0a1.75,1.75 0 1,0 -3.5,0M152.25,149.18a1.75,1.75 0 1,0 3.5,0a1.75,1.75 0 1,0 -3.5,0M160.84,149.18a1.75,1.75 0 1,0 3.5,0a1.75,1.75 0 1,0 -3.5,0M122.19,157.75a1.75,1.75 0 1,0 3.5,0a1.75,1.75 0 1,0 -3.5,0M130.78,157.75a1.75,1.75 0 1,0 3.5,0a1.75,1.75 0 1,0 -3.5,0M139.37,157.75a1.75,1.75 0 1,0 3.5,0a1.75,1.75 0 1,0 -3.5,0M147.96,157.75a1.75,1.75 0 1,0 3.5,0a1.75,1.75 0 1,0 -3.5,0M117.90,166.32a1.75,1.75 0 1,0 3.5,0a1.75,1.75 0 1,0 -3.5,0M126.48,166.32a1.75,1.75 0 1,0 3.5,0a1.75,1.75 0 1,0 -3.5,0" fill="#000" clip-path="url(#land)"/>
<path d="M67.4,63.6 L74.6,64.1 L78.2,59.8 L82.7,58.9 L86.1,55.5 L80.4,48.5 L93.5,43.6 L100.7,44.9 L105.0,48.1 L110.4,50.8 L118.5,57.1 L126.1,64.1 L137.4,64.7 L140.4,58.8 L141.7,58.2 L146.4,58.5 L148.3,60.1 L147.0,61.7 L145.1,62.6 L143.5,63.5 L143.2,66.4 L145.1,68.3 L148.3,68.9 L150.2,72.0 L151.8,74.7 L153.9,76.9 L156.1,79.0 L158.5,81.2 L159.3,82.8 L158.5,85.0 L159.6,87.1 L161.5,89.8 L162.6,92.5 L163.6,93.5 L163.3,89.0 L163.1,85.5 L164.7,84.7 L166.6,85.0 L168.0,86.6 L168.2,89.3 L167.7,92.0 L167.2,93.6 L165.8,95.2 L166.3,96.3 L168.5,97.9 L170.1,99.0 L172.8,97.9 L175.2,97.9 L180.6,97.9 L184.2,96.6 L187.8,93.4 L192.3,89.4 L195.0,85.8 L196.3,83.5 L196.8,86.7 L196.3,89.4 L196.2,93.6 L197.5,96.3 L202.0,99.9 L209.2,101.7 L213.7,105.3 L217.3,108.9 L216.0,111.6 L212.8,116.1 L209.7,120.2 L206.5,121.5 L204.7,125.1 L204.7,129.6 L202.0,132.3 L198.4,134.1 L196.5,137.3 L192.6,138.8 L190.1,140.8 L187.6,143.3 L182.7,144.3 L176.7,145.7 L172.8,147.7 L171.3,151.7 L167.8,153.2 L161.9,155.1 L155.9,157.1 L152.3,159.5 L148.4,161.5 L142.4,163.5 L136.5,166.0 L130.6,168.4 L124.7,170.4 L120.7,170.9 L117.7,168.4 L116.7,162.5 L116.2,160.0 L115.1,155.9 L114.0,153.2 L114.6,150.5 L115.4,147.8 L114.6,146.2 L113.0,143.5 L111.9,140.8 L109.2,138.6 L106.5,135.4 L104.9,130.9 L102.5,125.9 L98.0,122.3 L93.5,117.8 L92.6,112.4 L91.7,107.0 L89.9,102.5 L87.2,98.9 L83.6,97.1 L81.3,93.5 L81.3,89.9 L77.7,84.5 L74.6,81.4 L71.0,76.0 L65.6,71.9Z" fill="none" stroke="#000" stroke-width="1.4" stroke-linejoin="round"/>
<path d="M137.0,65.1 L148.0,68.9" fill="none" stroke="#000" stroke-width="1.25"/>
<path d="M167.8,98.3 L172.9,106.0 L181.5,106.5 L189.4,107.3" fill="none" stroke="#000" stroke-width="1.25"/>
<path d="M189.4,107.3 L191.4,99.3 L193.9,93.6 L196.2,93.2" fill="none" stroke="#000" stroke-width="1.25"/>
<path d="M189.4,107.3 L192.1,109.4 L191.7,113.4 L189.9,119.7 L188.5,124.2 L179.7,127.9 L170.8,130.9" fill="none" stroke="#000" stroke-width="1.25"/>
<path d="M170.8,130.9 L176.2,145.2" fill="none" stroke="#000" stroke-width="1.25"/>
<path d="M115.4,147.8 L117.3,144.0 L117.3,141.3 L118.6,140.3 L121.6,140.5 L128.6,140.3 L136.5,140.8 L140.5,143.7 L143.4,141.7 L145.4,137.8 L149.4,134.3 L154.3,132.8 L159.9,132.4 L170.8,130.9" fill="none" stroke="#000" stroke-width="1.25"/>
<ellipse cx="181.8" cy="171.3" rx="3.2" ry="1.1" fill="#58b0a7" stroke="#000" stroke-width="1.4"/>
<circle cx="171.3" cy="173.3" r="0.6" fill="#000"/>
<ellipse cx="109.7" cy="145.0" rx="1.9" ry="0.9" transform="rotate(40 109.7 145.0)" fill="#000"/>
<rect x="62.4" y="34.6" width="156.0" height="139.6" fill="none" stroke="#000" stroke-width="1.1"/>
<line x1="55.1" y1="174.17" x2="62.4" y2="174.17" stroke="#000" stroke-width="2.5"/>
<line x1="55.1" y1="155.80" x2="62.4" y2="155.80" stroke="#000" stroke-width="2.5"/>
<line x1="55.1" y1="137.17" x2="62.4" y2="137.17" stroke="#000" stroke-width="2.5"/>
<line x1="55.1" y1="118.22" x2="62.4" y2="118.22" stroke="#000" stroke-width="2.5"/>
<line x1="55.1" y1="98.88" x2="62.4" y2="98.88" stroke="#000" stroke-width="2.5"/>
<line x1="55.1" y1="79.09" x2="62.4" y2="79.09" stroke="#000" stroke-width="2.5"/>
<line x1="55.1" y1="58.76" x2="62.4" y2="58.76" stroke="#000" stroke-width="2.5"/>
<line x1="55.1" y1="37.81" x2="62.4" y2="37.81" stroke="#000" stroke-width="2.5"/>
<line x1="74.20" y1="174.2" x2="74.20" y2="181.5" stroke="#000" stroke-width="2.5"/>
<line x1="109.92" y1="174.2" x2="109.92" y2="181.5" stroke="#000" stroke-width="2.5"/>
<line x1="145.65" y1="174.2" x2="145.65" y2="181.5" stroke="#000" stroke-width="2.5"/>
<line x1="181.37" y1="174.2" x2="181.37" y2="181.5" stroke="#000" stroke-width="2.5"/>
<line x1="217.10" y1="174.2" x2="217.10" y2="181.5" stroke="#000" stroke-width="2.5"/>
</g>
<g transform="translate(0,177.4)">
<g clip-path="url(#land)"><rect x="62.4" y="34.6" width="156.0" height="139.6" fill="#def0ed"/>
<path d="M135.8,56.4 L149.5,56.4 L149.5,67.6 L135.8,65.1Z" fill="#a3dbd3"/>
<path d="M66.5,65.1 L74.5,62.6 L82.0,61.4 L87.0,65.1 L92.0,72.6 L94.5,80.1 L102.0,77.6 L112.0,75.1 L114.5,82.6 L107.0,87.6 L97.0,90.1 L89.5,87.6 L84.5,82.6 L77.0,80.1 L69.5,72.6Z" fill="#a3dbd3"/>
<path d="M92.0,92.6 L102.0,90.1 L112.0,91.3 L122.0,87.6 L132.0,85.1 L139.5,87.6 L142.0,95.1 L134.5,100.1 L127.0,105.1 L119.5,110.1 L109.5,112.6 L99.5,110.1 L94.5,102.6Z" fill="#a3dbd3"/>
<path d="M107.0,122.6 L119.5,120.1 L129.5,125.1 L132.0,135.1 L137.0,141.3 L134.5,150.1 L137.0,155.1 L144.5,156.3 L144.5,161.3 L132.0,163.8 L127.0,168.8 L119.5,170.1 L114.5,157.6 L112.0,145.1 L108.2,132.6Z" fill="#a3dbd3"/>
<path d="M129.5,65.1 L144.5,63.9 L148.2,68.8 L150.8,77.6 L144.5,85.1 L137.0,90.1 L129.5,87.6 L127.0,77.6Z" fill="#a3dbd3"/>
<path d="M172.0,137.6 L182.0,135.1 L192.0,132.6 L202.0,127.6 L209.5,120.1 L212.0,122.6 L207.0,132.6 L199.5,137.6 L189.5,142.6 L179.5,145.1 L174.5,143.8Z" fill="#a3dbd3"/>
<path d="M140.8,121.3 L145.8,120.1 L148.2,125.1 L143.2,127.6Z" fill="#a3dbd3"/>
<path d="M190.8,91.3 L195.8,85.1 L197.0,95.1 L193.2,97.6Z" fill="#a3dbd3"/>
<path d="M75.8,64.6 L83.2,65.1 L87.0,72.6 L87.0,83.8 L83.2,87.6 L78.2,82.6 L75.8,75.1Z" fill="#58b0a7"/>
<path d="M119.5,151.3 L127.0,150.1 L129.5,157.6 L124.5,162.6 L120.0,160.1Z" fill="#58b0a7"/>
<path d="M119.5,163.8 L124.5,163.8 L124.5,168.8 L120.0,168.8Z" fill="#58b0a7"/>
<path d="M77.0,68.8 L82.0,67.6 L85.0,73.8 L84.5,82.6 L80.8,85.1 L77.5,78.8Z" fill="#1a7e76"/>
<path d="M77.5,72.6 L80.8,72.1 L82.0,77.6 L79.5,79.6Z" fill="#005046"/>
<path d="M172.0,100.1 L187.0,100.1 L190.8,103.8 L189.5,108.8 L179.5,108.8 L173.2,106.3Z" fill="#f5efdc"/>
<path d="M192.0,102.6 L198.2,100.1 L204.5,107.6 L202.0,120.1 L197.0,122.6 L192.0,117.6Z" fill="#f5efdc"/>
<path d="M159.5,110.1 L167.0,102.6 L179.5,101.3 L192.0,103.8 L198.2,107.6 L197.0,117.6 L189.5,123.8 L179.5,128.8 L167.0,130.1 L160.8,125.1 L158.2,117.6Z" fill="#f5efdc"/>
<path d="M164.5,142.6 L172.0,140.1 L177.0,142.6 L175.8,150.1 L167.0,152.6Z" fill="#a3dbd3"/>
<path d="M200.8,112.6 L207.0,110.1 L214.5,108.8 L215.8,112.6 L209.5,120.1 L203.2,127.6 L199.5,122.6Z" fill="#a3dbd3"/>
<path d="M144.5,100.1 L152.0,97.6 L157.0,102.6 L154.5,108.8 L147.0,107.6Z" fill="#f5efdc"/>
<path d="M104.5,53.9 L109.5,52.6 L110.8,56.4 L106.5,57.6Z" fill="#f5efdc"/>
<path d="M83.2,90.1 L88.2,88.8 L90.0,93.8 L84.5,95.1Z" fill="#f5efdc"/>
<path d="M132.0,131.3 L137.0,130.1 L138.2,135.1 L133.2,136.3Z" fill="#f5efdc"/>
<path d="M165.8,115.1 L172.0,111.3 L179.5,112.6 L182.0,117.6 L177.0,123.8 L169.5,126.3 L165.0,121.3Z" fill="#ead59f"/>
<path d="M171.0,120.6 L175.0,119.1 L177.0,122.1 L174.5,125.1 L171.0,124.1Z" fill="#cfa256"/>
</g>
<path d="M132.72,67.18a1.75,1.75 0 1,0 3.5,0a1.75,1.75 0 1,0 -3.5,0M76.89,75.75a1.75,1.75 0 1,0 3.5,0a1.75,1.75 0 1,0 -3.5,0M137.02,75.75a1.75,1.75 0 1,0 3.5,0a1.75,1.75 0 1,0 -3.5,0M145.61,75.75a1.75,1.75 0 1,0 3.5,0a1.75,1.75 0 1,0 -3.5,0M132.72,84.33a1.75,1.75 0 1,0 3.5,0a1.75,1.75 0 1,0 -3.5,0M141.31,84.33a1.75,1.75 0 1,0 3.5,0a1.75,1.75 0 1,0 -3.5,0M128.43,92.90a1.75,1.75 0 1,0 3.5,0a1.75,1.75 0 1,0 -3.5,0M137.02,92.90a1.75,1.75 0 1,0 3.5,0a1.75,1.75 0 1,0 -3.5,0M106.95,101.47a1.75,1.75 0 1,0 3.5,0a1.75,1.75 0 1,0 -3.5,0M115.55,101.47a1.75,1.75 0 1,0 3.5,0a1.75,1.75 0 1,0 -3.5,0M124.14,101.47a1.75,1.75 0 1,0 3.5,0a1.75,1.75 0 1,0 -3.5,0M111.25,110.05a1.75,1.75 0 1,0 3.5,0a1.75,1.75 0 1,0 -3.5,0M111.25,127.20a1.75,1.75 0 1,0 3.5,0a1.75,1.75 0 1,0 -3.5,0M119.84,127.20a1.75,1.75 0 1,0 3.5,0a1.75,1.75 0 1,0 -3.5,0M115.55,135.78a1.75,1.75 0 1,0 3.5,0a1.75,1.75 0 1,0 -3.5,0M124.14,135.78a1.75,1.75 0 1,0 3.5,0a1.75,1.75 0 1,0 -3.5,0M119.84,144.35a1.75,1.75 0 1,0 3.5,0a1.75,1.75 0 1,0 -3.5,0M128.43,144.35a1.75,1.75 0 1,0 3.5,0a1.75,1.75 0 1,0 -3.5,0M171.38,144.35a1.75,1.75 0 1,0 3.5,0a1.75,1.75 0 1,0 -3.5,0M115.55,152.93a1.75,1.75 0 1,0 3.5,0a1.75,1.75 0 1,0 -3.5,0M124.14,152.93a1.75,1.75 0 1,0 3.5,0a1.75,1.75 0 1,0 -3.5,0M132.72,152.93a1.75,1.75 0 1,0 3.5,0a1.75,1.75 0 1,0 -3.5,0M141.31,152.93a1.75,1.75 0 1,0 3.5,0a1.75,1.75 0 1,0 -3.5,0M149.91,152.93a1.75,1.75 0 1,0 3.5,0a1.75,1.75 0 1,0 -3.5,0M119.84,161.50a1.75,1.75 0 1,0 3.5,0a1.75,1.75 0 1,0 -3.5,0M128.43,161.50a1.75,1.75 0 1,0 3.5,0a1.75,1.75 0 1,0 -3.5,0" fill="#000" clip-path="url(#land)"/>
<path d="M67.4,63.6 L74.6,64.1 L78.2,59.8 L82.7,58.9 L86.1,55.5 L80.4,48.5 L93.5,43.6 L100.7,44.9 L105.0,48.1 L110.4,50.8 L118.5,57.1 L126.1,64.1 L137.4,64.7 L140.4,58.8 L141.7,58.2 L146.4,58.5 L148.3,60.1 L147.0,61.7 L145.1,62.6 L143.5,63.5 L143.2,66.4 L145.1,68.3 L148.3,68.9 L150.2,72.0 L151.8,74.7 L153.9,76.9 L156.1,79.0 L158.5,81.2 L159.3,82.8 L158.5,85.0 L159.6,87.1 L161.5,89.8 L162.6,92.5 L163.6,93.5 L163.3,89.0 L163.1,85.5 L164.7,84.7 L166.6,85.0 L168.0,86.6 L168.2,89.3 L167.7,92.0 L167.2,93.6 L165.8,95.2 L166.3,96.3 L168.5,97.9 L170.1,99.0 L172.8,97.9 L175.2,97.9 L180.6,97.9 L184.2,96.6 L187.8,93.4 L192.3,89.4 L195.0,85.8 L196.3,83.5 L196.8,86.7 L196.3,89.4 L196.2,93.6 L197.5,96.3 L202.0,99.9 L209.2,101.7 L213.7,105.3 L217.3,108.9 L216.0,111.6 L212.8,116.1 L209.7,120.2 L206.5,121.5 L204.7,125.1 L204.7,129.6 L202.0,132.3 L198.4,134.1 L196.5,137.3 L192.6,138.8 L190.1,140.8 L187.6,143.3 L182.7,144.3 L176.7,145.7 L172.8,147.7 L171.3,151.7 L167.8,153.2 L161.9,155.1 L155.9,157.1 L152.3,159.5 L148.4,161.5 L142.4,163.5 L136.5,166.0 L130.6,168.4 L124.7,170.4 L120.7,170.9 L117.7,168.4 L116.7,162.5 L116.2,160.0 L115.1,155.9 L114.0,153.2 L114.6,150.5 L115.4,147.8 L114.6,146.2 L113.0,143.5 L111.9,140.8 L109.2,138.6 L106.5,135.4 L104.9,130.9 L102.5,125.9 L98.0,122.3 L93.5,117.8 L92.6,112.4 L91.7,107.0 L89.9,102.5 L87.2,98.9 L83.6,97.1 L81.3,93.5 L81.3,89.9 L77.7,84.5 L74.6,81.4 L71.0,76.0 L65.6,71.9Z" fill="none" stroke="#000" stroke-width="1.4" stroke-linejoin="round"/>
<path d="M137.0,65.1 L148.0,68.9" fill="none" stroke="#000" stroke-width="1.25"/>
<path d="M167.8,98.3 L172.9,106.0 L181.5,106.5 L189.4,107.3" fill="none" stroke="#000" stroke-width="1.25"/>
<path d="M189.4,107.3 L191.4,99.3 L193.9,93.6 L196.2,93.2" fill="none" stroke="#000" stroke-width="1.25"/>
<path d="M189.4,107.3 L192.1,109.4 L191.7,113.4 L189.9,119.7 L188.5,124.2 L179.7,127.9 L170.8,130.9" fill="none" stroke="#000" stroke-width="1.25"/>
<path d="M170.8,130.9 L176.2,145.2" fill="none" stroke="#000" stroke-width="1.25"/>
<path d="M115.4,147.8 L117.3,144.0 L117.3,141.3 L118.6,140.3 L121.6,140.5 L128.6,140.3 L136.5,140.8 L140.5,143.7 L143.4,141.7 L145.4,137.8 L149.4,134.3 L154.3,132.8 L159.9,132.4 L170.8,130.9" fill="none" stroke="#000" stroke-width="1.25"/>
<ellipse cx="181.8" cy="171.3" rx="3.2" ry="1.1" fill="#def0ed" stroke="#000" stroke-width="1.4"/>
<circle cx="171.3" cy="173.3" r="0.6" fill="#000"/>
<ellipse cx="109.7" cy="145.0" rx="1.9" ry="0.9" transform="rotate(40 109.7 145.0)" fill="#000"/>
<rect x="62.4" y="34.6" width="156.0" height="139.6" fill="none" stroke="#000" stroke-width="1.1"/>
<line x1="55.1" y1="174.17" x2="62.4" y2="174.17" stroke="#000" stroke-width="2.5"/>
<line x1="55.1" y1="155.80" x2="62.4" y2="155.80" stroke="#000" stroke-width="2.5"/>
<line x1="55.1" y1="137.17" x2="62.4" y2="137.17" stroke="#000" stroke-width="2.5"/>
<line x1="55.1" y1="118.22" x2="62.4" y2="118.22" stroke="#000" stroke-width="2.5"/>
<line x1="55.1" y1="98.88" x2="62.4" y2="98.88" stroke="#000" stroke-width="2.5"/>
<line x1="55.1" y1="79.09" x2="62.4" y2="79.09" stroke="#000" stroke-width="2.5"/>
<line x1="55.1" y1="58.76" x2="62.4" y2="58.76" stroke="#000" stroke-width="2.5"/>
<line x1="55.1" y1="37.81" x2="62.4" y2="37.81" stroke="#000" stroke-width="2.5"/>
<line x1="74.20" y1="174.2" x2="74.20" y2="181.5" stroke="#000" stroke-width="2.5"/>
<line x1="109.92" y1="174.2" x2="109.92" y2="181.5" stroke="#000" stroke-width="2.5"/>
<line x1="145.65" y1="174.2" x2="145.65" y2="181.5" stroke="#000" stroke-width="2.5"/>
<line x1="181.37" y1="174.2" x2="181.37" y2="181.5" stroke="#000" stroke-width="2.5"/>
<line x1="217.10" y1="174.2" x2="217.10" y2="181.5" stroke="#000" stroke-width="2.5"/>
</g>
<g transform="translate(192.0,177.4)">
<g clip-path="url(#land)"><rect x="62.4" y="34.6" width="156.0" height="139.6" fill="#def0ed"/>
<path d="M135.8,56.4 L149.5,56.4 L149.5,67.6 L135.8,65.1Z" fill="#a3dbd3"/>
<path d="M66.5,65.1 L77.0,62.6 L87.0,61.4 L99.5,60.1 L112.0,62.6 L122.0,67.6 L124.5,77.6 L122.0,87.6 L117.0,95.1 L112.0,105.1 L107.0,112.6 L99.5,115.1 L94.5,107.6 L89.5,97.6 L82.0,87.6 L74.5,80.1 L68.2,72.6Z" fill="#a3dbd3"/>
<path d="M125.8,65.1 L144.5,63.9 L148.2,68.8 L152.0,80.1 L149.5,90.1 L144.5,97.6 L137.0,103.8 L129.5,102.6 L124.5,95.1 L125.8,85.1 L123.2,75.1Z" fill="#a3dbd3"/>
<path d="M105.8,120.1 L119.5,117.6 L127.0,125.1 L125.8,137.6 L119.5,140.1 L112.0,137.6 L108.2,130.1Z" fill="#a3dbd3"/>
<path d="M115.8,142.6 L137.0,142.6 L144.5,140.1 L157.0,141.3 L167.0,138.8 L174.5,142.6 L172.0,152.6 L162.0,156.3 L149.5,161.3 L137.0,163.8 L127.0,168.8 L119.5,169.6 L114.5,157.6Z" fill="#a3dbd3"/>
<path d="M172.0,137.6 L175.5,129.8 L188.0,127.3 L196.8,121.1 L201.5,117.3 L206.5,114.8 L211.5,112.3 L222.0,110.1 L222.0,157.6 L172.0,157.6Z" fill="#a3dbd3"/>
<path d="M138.2,116.3 L147.0,113.8 L157.0,116.3 L158.2,122.6 L149.5,126.3 L139.5,125.1Z" fill="#a3dbd3"/>
<path d="M150.8,98.8 L160.8,97.6 L167.0,101.3 L164.5,105.1 L154.5,105.1Z" fill="#a3dbd3"/>
<path d="M200.8,103.1 L205.8,103.1 L205.8,105.6 L200.8,105.6Z" fill="#a3dbd3"/>
<path d="M190.8,91.3 L195.8,85.1 L197.0,95.1 L193.2,97.6Z" fill="#a3dbd3"/>
<path d="M70.8,67.6 L79.5,66.3 L87.0,72.6 L92.0,80.1 L89.5,87.6 L83.2,86.3 L77.0,80.1 L72.0,73.8Z" fill="#58b0a7"/>
<path d="M92.0,80.1 L99.5,77.6 L104.5,82.6 L102.0,87.6 L94.5,87.6Z" fill="#58b0a7"/>
<path d="M109.5,126.3 L117.0,125.1 L120.8,132.6 L118.2,138.8 L112.0,137.6Z" fill="#58b0a7"/>
<path d="M122.0,157.6 L134.5,155.1 L144.5,155.1 L154.5,152.6 L164.5,151.3 L167.0,155.1 L157.0,158.8 L144.5,161.3 L134.5,163.8 L124.5,167.6Z" fill="#58b0a7"/>
<path d="M176.8,138.6 L189.2,137.6 L194.5,133.8 L200.2,123.8 L205.2,121.1 L209.5,122.6 L207.0,135.1 L192.0,145.1 L179.5,147.6Z" fill="#58b0a7"/>
<path d="M112.0,132.6 L115.8,131.3 L117.0,136.3 L113.2,137.6Z" fill="#1a7e76"/>
<path d="M122.0,163.8 L127.0,162.6 L128.2,167.6 L123.2,168.8Z" fill="#1a7e76"/>
<path d="M162.0,112.6 L169.5,108.8 L182.0,108.8 L189.5,111.3 L188.2,117.6 L179.5,122.6 L169.5,123.8 L163.2,120.1Z" fill="#f5efdc"/>
<path d="M174.5,101.3 L187.0,101.3 L188.2,106.3 L179.5,107.6Z" fill="#f5efdc"/>
<path d="M192.0,105.1 L199.5,107.6 L198.2,112.6 L193.2,111.3Z" fill="#f5efdc"/>
<path d="M83.2,90.1 L89.5,88.8 L91.5,93.8 L85.8,95.6Z" fill="#ead59f"/>
<path d="M85.0,90.8 L88.5,90.1 L89.8,93.1 L86.2,94.1Z" fill="#cfa256"/>
<path d="M77.0,62.6 L81.5,62.1 L82.0,67.6 L78.0,68.6Z" fill="#ead59f"/>
<path d="M133.2,132.6 L138.2,132.1 L139.0,136.3 L134.0,136.3Z" fill="#f5efdc"/>
<path d="M147.0,133.1 L157.0,132.1 L158.2,135.6 L148.2,136.3Z" fill="#f5efdc"/>
</g>
<path d="M129.70,67.18a1.75,1.75 0 1,0 3.5,0a1.75,1.75 0 1,0 -3.5,0M138.30,67.18a1.75,1.75 0 1,0 3.5,0a1.75,1.75 0 1,0 -3.5,0M99.64,75.75a1.75,1.75 0 1,0 3.5,0a1.75,1.75 0 1,0 -3.5,0M108.23,75.75a1.75,1.75 0 1,0 3.5,0a1.75,1.75 0 1,0 -3.5,0M116.82,75.75a1.75,1.75 0 1,0 3.5,0a1.75,1.75 0 1,0 -3.5,0M134.00,75.75a1.75,1.75 0 1,0 3.5,0a1.75,1.75 0 1,0 -3.5,0M142.59,75.75a1.75,1.75 0 1,0 3.5,0a1.75,1.75 0 1,0 -3.5,0M95.35,84.33a1.75,1.75 0 1,0 3.5,0a1.75,1.75 0 1,0 -3.5,0M103.94,84.33a1.75,1.75 0 1,0 3.5,0a1.75,1.75 0 1,0 -3.5,0M112.52,84.33a1.75,1.75 0 1,0 3.5,0a1.75,1.75 0 1,0 -3.5,0M129.70,84.33a1.75,1.75 0 1,0 3.5,0a1.75,1.75 0 1,0 -3.5,0M138.30,84.33a1.75,1.75 0 1,0 3.5,0a1.75,1.75 0 1,0 -3.5,0M146.88,84.33a1.75,1.75 0 1,0 3.5,0a1.75,1.75 0 1,0 -3.5,0M99.64,92.90a1.75,1.75 0 1,0 3.5,0a1.75,1.75 0 1,0 -3.5,0M108.23,92.90a1.75,1.75 0 1,0 3.5,0a1.75,1.75 0 1,0 -3.5,0M125.41,92.90a1.75,1.75 0 1,0 3.5,0a1.75,1.75 0 1,0 -3.5,0M134.00,92.90a1.75,1.75 0 1,0 3.5,0a1.75,1.75 0 1,0 -3.5,0M142.59,92.90a1.75,1.75 0 1,0 3.5,0a1.75,1.75 0 1,0 -3.5,0M95.35,101.47a1.75,1.75 0 1,0 3.5,0a1.75,1.75 0 1,0 -3.5,0M103.94,101.47a1.75,1.75 0 1,0 3.5,0a1.75,1.75 0 1,0 -3.5,0M121.12,101.47a1.75,1.75 0 1,0 3.5,0a1.75,1.75 0 1,0 -3.5,0M129.70,101.47a1.75,1.75 0 1,0 3.5,0a1.75,1.75 0 1,0 -3.5,0M138.30,101.47a1.75,1.75 0 1,0 3.5,0a1.75,1.75 0 1,0 -3.5,0M99.64,110.05a1.75,1.75 0 1,0 3.5,0a1.75,1.75 0 1,0 -3.5,0M108.23,110.05a1.75,1.75 0 1,0 3.5,0a1.75,1.75 0 1,0 -3.5,0M112.52,118.63a1.75,1.75 0 1,0 3.5,0a1.75,1.75 0 1,0 -3.5,0M121.12,118.63a1.75,1.75 0 1,0 3.5,0a1.75,1.75 0 1,0 -3.5,0M146.88,118.63a1.75,1.75 0 1,0 3.5,0a1.75,1.75 0 1,0 -3.5,0M108.23,127.20a1.75,1.75 0 1,0 3.5,0a1.75,1.75 0 1,0 -3.5,0M116.82,127.20a1.75,1.75 0 1,0 3.5,0a1.75,1.75 0 1,0 -3.5,0M112.52,135.78a1.75,1.75 0 1,0 3.5,0a1.75,1.75 0 1,0 -3.5,0M116.82,144.35a1.75,1.75 0 1,0 3.5,0a1.75,1.75 0 1,0 -3.5,0M125.41,144.35a1.75,1.75 0 1,0 3.5,0a1.75,1.75 0 1,0 -3.5,0M134.00,144.35a1.75,1.75 0 1,0 3.5,0a1.75,1.75 0 1,0 -3.5,0M142.59,144.35a1.75,1.75 0 1,0 3.5,0a1.75,1.75 0 1,0 -3.5,0M168.36,144.35a1.75,1.75 0 1,0 3.5,0a1.75,1.75 0 1,0 -3.5,0M121.12,152.93a1.75,1.75 0 1,0 3.5,0a1.75,1.75 0 1,0 -3.5,0M129.70,152.93a1.75,1.75 0 1,0 3.5,0a1.75,1.75 0 1,0 -3.5,0M138.30,152.93a1.75,1.75 0 1,0 3.5,0a1.75,1.75 0 1,0 -3.5,0M146.88,152.93a1.75,1.75 0 1,0 3.5,0a1.75,1.75 0 1,0 -3.5,0M155.48,152.93a1.75,1.75 0 1,0 3.5,0a1.75,1.75 0 1,0 -3.5,0M164.06,152.93a1.75,1.75 0 1,0 3.5,0a1.75,1.75 0 1,0 -3.5,0M116.82,161.50a1.75,1.75 0 1,0 3.5,0a1.75,1.75 0 1,0 -3.5,0M125.41,161.50a1.75,1.75 0 1,0 3.5,0a1.75,1.75 0 1,0 -3.5,0M134.00,161.50a1.75,1.75 0 1,0 3.5,0a1.75,1.75 0 1,0 -3.5,0" fill="#000" clip-path="url(#land)"/>
<path d="M67.4,63.6 L74.6,64.1 L78.2,59.8 L82.7,58.9 L86.1,55.5 L80.4,48.5 L93.5,43.6 L100.7,44.9 L105.0,48.1 L110.4,50.8 L118.5,57.1 L126.1,64.1 L137.4,64.7 L140.4,58.8 L141.7,58.2 L146.4,58.5 L148.3,60.1 L147.0,61.7 L145.1,62.6 L143.5,63.5 L143.2,66.4 L145.1,68.3 L148.3,68.9 L150.2,72.0 L151.8,74.7 L153.9,76.9 L156.1,79.0 L158.5,81.2 L159.3,82.8 L158.5,85.0 L159.6,87.1 L161.5,89.8 L162.6,92.5 L163.6,93.5 L163.3,89.0 L163.1,85.5 L164.7,84.7 L166.6,85.0 L168.0,86.6 L168.2,89.3 L167.7,92.0 L167.2,93.6 L165.8,95.2 L166.3,96.3 L168.5,97.9 L170.1,99.0 L172.8,97.9 L175.2,97.9 L180.6,97.9 L184.2,96.6 L187.8,93.4 L192.3,89.4 L195.0,85.8 L196.3,83.5 L196.8,86.7 L196.3,89.4 L196.2,93.6 L197.5,96.3 L202.0,99.9 L209.2,101.7 L213.7,105.3 L217.3,108.9 L216.0,111.6 L212.8,116.1 L209.7,120.2 L206.5,121.5 L204.7,125.1 L204.7,129.6 L202.0,132.3 L198.4,134.1 L196.5,137.3 L192.6,138.8 L190.1,140.8 L187.6,143.3 L182.7,144.3 L176.7,145.7 L172.8,147.7 L171.3,151.7 L167.8,153.2 L161.9,155.1 L155.9,157.1 L152.3,159.5 L148.4,161.5 L142.4,163.5 L136.5,166.0 L130.6,168.4 L124.7,170.4 L120.7,170.9 L117.7,168.4 L116.7,162.5 L116.2,160.0 L115.1,155.9 L114.0,153.2 L114.6,150.5 L115.4,147.8 L114.6,146.2 L113.0,143.5 L111.9,140.8 L109.2,138.6 L106.5,135.4 L104.9,130.9 L102.5,125.9 L98.0,122.3 L93.5,117.8 L92.6,112.4 L91.7,107.0 L89.9,102.5 L87.2,98.9 L83.6,97.1 L81.3,93.5 L81.3,89.9 L77.7,84.5 L74.6,81.4 L71.0,76.0 L65.6,71.9Z" fill="none" stroke="#000" stroke-width="1.4" stroke-linejoin="round"/>
<path d="M137.0,65.1 L148.0,68.9" fill="none" stroke="#000" stroke-width="1.25"/>
<path d="M167.8,98.3 L172.9,106.0 L181.5,106.5 L189.4,107.3" fill="none" stroke="#000" stroke-width="1.25"/>
<path d="M189.4,107.3 L191.4,99.3 L193.9,93.6 L196.2,93.2" fill="none" stroke="#000" stroke-width="1.25"/>
<path d="M189.4,107.3 L192.1,109.4 L191.7,113.4 L189.9,119.7 L188.5,124.2 L179.7,127.9 L170.8,130.9" fill="none" stroke="#000" stroke-width="1.25"/>
<path d="M170.8,130.9 L176.2,145.2" fill="none" stroke="#000" stroke-width="1.25"/>
<path d="M115.4,147.8 L117.3,144.0 L117.3,141.3 L118.6,140.3 L121.6,140.5 L128.6,140.3 L136.5,140.8 L140.5,143.7 L143.4,141.7 L145.4,137.8 L149.4,134.3 L154.3,132.8 L159.9,132.4 L170.8,130.9" fill="none" stroke="#000" stroke-width="1.25"/>
<ellipse cx="181.8" cy="171.3" rx="3.2" ry="1.1" fill="#def0ed" stroke="#000" stroke-width="1.4"/>
<circle cx="171.3" cy="173.3" r="0.6" fill="#000"/>
<ellipse cx="109.7" cy="145.0" rx="1.9" ry="0.9" transform="rotate(40 109.7 145.0)" fill="#000"/>
<rect x="62.4" y="34.6" width="156.0" height="139.6" fill="none" stroke="#000" stroke-width="1.1"/>
<line x1="55.1" y1="174.17" x2="62.4" y2="174.17" stroke="#000" stroke-width="2.5"/>
<line x1="55.1" y1="155.80" x2="62.4" y2="155.80" stroke="#000" stroke-width="2.5"/>
<line x1="55.1" y1="137.17" x2="62.4" y2="137.17" stroke="#000" stroke-width="2.5"/>
<line x1="55.1" y1="118.22" x2="62.4" y2="118.22" stroke="#000" stroke-width="2.5"/>
<line x1="55.1" y1="98.88" x2="62.4" y2="98.88" stroke="#000" stroke-width="2.5"/>
<line x1="55.1" y1="79.09" x2="62.4" y2="79.09" stroke="#000" stroke-width="2.5"/>
<line x1="55.1" y1="58.76" x2="62.4" y2="58.76" stroke="#000" stroke-width="2.5"/>
<line x1="55.1" y1="37.81" x2="62.4" y2="37.81" stroke="#000" stroke-width="2.5"/>
<line x1="74.20" y1="174.2" x2="74.20" y2="181.5" stroke="#000" stroke-width="2.5"/>
<line x1="109.92" y1="174.2" x2="109.92" y2="181.5" stroke="#000" stroke-width="2.5"/>
<line x1="145.65" y1="174.2" x2="145.65" y2="181.5" stroke="#000" stroke-width="2.5"/>
<line x1="181.37" y1="174.2" x2="181.37" y2="181.5" stroke="#000" stroke-width="2.5"/>
<line x1="217.10" y1="174.2" x2="217.10" y2="181.5" stroke="#000" stroke-width="2.5"/>
</g>
<g transform="translate(384.2,177.4)">
<g clip-path="url(#land)"><rect x="62.4" y="34.6" width="156.0" height="139.6" fill="#a3dbd3"/>
<path d="M135.6,56.4 L149.3,56.4 L149.3,67.6 L135.6,65.1Z" fill="#58b0a7"/>
<path d="M85.5,51.4 L94.3,48.9 L103.0,51.4 L103.0,62.6 L99.3,70.1 L91.8,70.1 L86.8,65.1 L85.5,57.6Z" fill="#def0ed"/>
<path d="M156.8,102.6 L166.8,101.3 L171.8,103.1 L186.8,105.1 L190.6,108.8 L188.1,117.6 L181.8,122.6 L174.3,125.1 L166.8,123.8 L161.8,120.1 L159.3,112.6Z" fill="#def0ed"/>
<path d="M173.1,100.1 L186.8,97.6 L190.6,92.6 L195.6,85.1 L196.8,97.6 L201.8,100.1 L209.3,105.1 L213.1,111.3 L209.3,113.8 L201.8,112.6 L194.3,110.1 L186.8,107.6 L176.8,106.3Z" fill="#def0ed"/>
<path d="M191.8,110.1 L201.8,112.6 L209.3,115.1 L206.8,122.6 L199.3,125.1 L191.8,122.6Z" fill="#def0ed"/>
<path d="M144.3,133.8 L156.8,131.3 L166.8,130.1 L169.3,133.8 L156.8,137.6 L146.8,138.8Z" fill="#def0ed"/>
<path d="M90.5,102.6 L95.5,101.3 L98.0,110.1 L93.0,112.6Z" fill="#def0ed"/>
<path d="M91.5,75.1 L99.3,68.8 L109.3,66.8 L118.0,67.6 L121.8,75.1 L121.3,87.6 L119.3,100.1 L111.8,104.1 L99.3,103.1 L93.0,97.6 L91.3,87.6Z" fill="#58b0a7"/>
<path d="M76.8,70.1 L83.0,69.6 L85.5,75.1 L81.8,77.6 L77.3,75.6Z" fill="#58b0a7"/>
<path d="M131.8,67.6 L141.8,66.3 L146.8,70.1 L148.1,77.6 L141.8,80.1 L134.3,77.6Z" fill="#58b0a7"/>
<path d="M136.8,110.1 L146.8,108.8 L154.3,112.6 L153.1,120.1 L144.3,122.6 L138.1,118.8Z" fill="#58b0a7"/>
<path d="M106.8,130.1 L116.8,127.6 L126.8,130.1 L129.3,136.3 L119.3,140.1 L110.5,138.8Z" fill="#58b0a7"/>
<path d="M119.3,147.6 L131.8,145.1 L144.3,147.6 L156.8,145.1 L166.8,142.6 L171.8,147.6 L166.8,155.1 L154.3,157.6 L141.8,161.3 L131.8,165.1 L121.8,167.6 L118.0,157.6Z" fill="#58b0a7"/>
<path d="M174.3,140.1 L184.3,133.8 L194.3,130.1 L204.3,123.8 L210.6,120.1 L208.1,130.1 L201.8,136.3 L189.3,142.6 L179.3,145.1Z" fill="#58b0a7"/>
<path d="M169.3,112.6 L176.8,111.3 L179.3,117.6 L173.1,121.3 L169.3,117.6Z" fill="#58b0a7"/>
<path d="M93.0,78.8 L101.8,75.1 L110.5,72.6 L113.8,78.8 L113.0,90.1 L109.3,97.6 L101.8,99.1 L95.5,95.1 L92.3,87.6Z" fill="#1a7e76"/>
<path d="M144.3,146.3 L154.3,143.8 L161.8,147.6 L156.8,152.6 L146.8,152.6Z" fill="#1a7e76"/>
<path d="M181.8,136.3 L191.8,132.6 L198.1,136.3 L191.8,140.1 L184.3,140.6Z" fill="#1a7e76"/>
<path d="M109.8,128.1 L118.0,127.6 L120.5,133.8 L118.0,137.6 L110.5,137.1Z" fill="#1a7e76"/>
<path d="M191.8,127.6 L201.8,121.3 L209.3,115.1 L214.8,110.1 L218.1,110.1 L214.3,120.1 L206.8,130.1Z" fill="#58b0a7"/>
<path d="M185.6,137.6 L190.6,136.3 L191.8,140.1 L186.8,141.3Z" fill="#005046"/>
<path d="M119.3,151.3 L125.5,150.1 L126.8,157.6 L121.8,160.1Z" fill="#1a7e76"/>
<path d="M141.8,112.6 L148.1,112.1 L149.3,117.6 L144.3,118.8Z" fill="#1a7e76"/>
<path d="M76.8,62.6 L81.8,59.6 L85.5,61.4 L84.8,66.3 L80.5,68.8 L77.3,67.1Z" fill="#ead59f"/>
<path d="M78.3,63.9 L81.8,61.6 L83.8,63.9 L81.8,66.8 L78.8,66.8Z" fill="#cfa256"/>
<path d="M82.8,88.6 L88.0,87.6 L91.8,90.6 L91.3,95.6 L86.8,97.1 L83.3,94.6Z" fill="#ead59f"/>
<path d="M91.8,110.1 L95.5,108.8 L96.3,113.8 L92.3,113.8Z" fill="#f5efdc"/>
<path d="M184.3,117.6 L188.1,117.1 L188.1,121.3 L184.3,121.3Z" fill="#f5efdc"/>
<path d="M84.3,90.1 L89.8,88.8 L91.3,93.8 L86.8,96.3 L84.3,94.6Z" fill="#cfa256"/>
</g>
<path d="M83.54,50.03a1.75,1.75 0 1,0 3.5,0a1.75,1.75 0 1,0 -3.5,0M100.72,50.03a1.75,1.75 0 1,0 3.5,0a1.75,1.75 0 1,0 -3.5,0M109.31,67.18a1.75,1.75 0 1,0 3.5,0a1.75,1.75 0 1,0 -3.5,0M117.90,67.18a1.75,1.75 0 1,0 3.5,0a1.75,1.75 0 1,0 -3.5,0M126.48,67.18a1.75,1.75 0 1,0 3.5,0a1.75,1.75 0 1,0 -3.5,0M135.07,67.18a1.75,1.75 0 1,0 3.5,0a1.75,1.75 0 1,0 -3.5,0M96.42,75.75a1.75,1.75 0 1,0 3.5,0a1.75,1.75 0 1,0 -3.5,0M105.01,75.75a1.75,1.75 0 1,0 3.5,0a1.75,1.75 0 1,0 -3.5,0M113.60,75.75a1.75,1.75 0 1,0 3.5,0a1.75,1.75 0 1,0 -3.5,0M122.19,75.75a1.75,1.75 0 1,0 3.5,0a1.75,1.75 0 1,0 -3.5,0M130.78,75.75a1.75,1.75 0 1,0 3.5,0a1.75,1.75 0 1,0 -3.5,0M139.37,75.75a1.75,1.75 0 1,0 3.5,0a1.75,1.75 0 1,0 -3.5,0M147.96,75.75a1.75,1.75 0 1,0 3.5,0a1.75,1.75 0 1,0 -3.5,0M92.12,84.33a1.75,1.75 0 1,0 3.5,0a1.75,1.75 0 1,0 -3.5,0M100.72,84.33a1.75,1.75 0 1,0 3.5,0a1.75,1.75 0 1,0 -3.5,0M109.31,84.33a1.75,1.75 0 1,0 3.5,0a1.75,1.75 0 1,0 -3.5,0M117.90,84.33a1.75,1.75 0 1,0 3.5,0a1.75,1.75 0 1,0 -3.5,0M126.48,84.33a1.75,1.75 0 1,0 3.5,0a1.75,1.75 0 1,0 -3.5,0M135.07,84.33a1.75,1.75 0 1,0 3.5,0a1.75,1.75 0 1,0 -3.5,0M143.67,84.33a1.75,1.75 0 1,0 3.5,0a1.75,1.75 0 1,0 -3.5,0M152.25,84.33a1.75,1.75 0 1,0 3.5,0a1.75,1.75 0 1,0 -3.5,0M96.42,92.90a1.75,1.75 0 1,0 3.5,0a1.75,1.75 0 1,0 -3.5,0M105.01,92.90a1.75,1.75 0 1,0 3.5,0a1.75,1.75 0 1,0 -3.5,0M113.60,92.90a1.75,1.75 0 1,0 3.5,0a1.75,1.75 0 1,0 -3.5,0M122.19,92.90a1.75,1.75 0 1,0 3.5,0a1.75,1.75 0 1,0 -3.5,0M130.78,92.90a1.75,1.75 0 1,0 3.5,0a1.75,1.75 0 1,0 -3.5,0M139.37,92.90a1.75,1.75 0 1,0 3.5,0a1.75,1.75 0 1,0 -3.5,0M147.96,92.90a1.75,1.75 0 1,0 3.5,0a1.75,1.75 0 1,0 -3.5,0M156.55,92.90a1.75,1.75 0 1,0 3.5,0a1.75,1.75 0 1,0 -3.5,0M100.72,101.47a1.75,1.75 0 1,0 3.5,0a1.75,1.75 0 1,0 -3.5,0M109.31,101.47a1.75,1.75 0 1,0 3.5,0a1.75,1.75 0 1,0 -3.5,0M117.90,101.47a1.75,1.75 0 1,0 3.5,0a1.75,1.75 0 1,0 -3.5,0M126.48,101.47a1.75,1.75 0 1,0 3.5,0a1.75,1.75 0 1,0 -3.5,0M135.07,101.47a1.75,1.75 0 1,0 3.5,0a1.75,1.75 0 1,0 -3.5,0M143.67,101.47a1.75,1.75 0 1,0 3.5,0a1.75,1.75 0 1,0 -3.5,0M152.25,101.47a1.75,1.75 0 1,0 3.5,0a1.75,1.75 0 1,0 -3.5,0M160.84,101.47a1.75,1.75 0 1,0 3.5,0a1.75,1.75 0 1,0 -3.5,0M96.42,110.05a1.75,1.75 0 1,0 3.5,0a1.75,1.75 0 1,0 -3.5,0M105.01,110.05a1.75,1.75 0 1,0 3.5,0a1.75,1.75 0 1,0 -3.5,0M113.60,110.05a1.75,1.75 0 1,0 3.5,0a1.75,1.75 0 1,0 -3.5,0M122.19,110.05a1.75,1.75 0 1,0 3.5,0a1.75,1.75 0 1,0 -3.5,0M130.78,110.05a1.75,1.75 0 1,0 3.5,0a1.75,1.75 0 1,0 -3.5,0M139.37,110.05a1.75,1.75 0 1,0 3.5,0a1.75,1.75 0 1,0 -3.5,0M147.96,110.05a1.75,1.75 0 1,0 3.5,0a1.75,1.75 0 1,0 -3.5,0M100.72,118.63a1.75,1.75 0 1,0 3.5,0a1.75,1.75 0 1,0 -3.5,0M109.31,118.63a1.75,1.75 0 1,0 3.5,0a1.75,1.75 0 1,0 -3.5,0M117.90,118.63a1.75,1.75 0 1,0 3.5,0a1.75,1.75 0 1,0 -3.5,0M126.48,118.63a1.75,1.75 0 1,0 3.5,0a1.75,1.75 0 1,0 -3.5,0M135.07,118.63a1.75,1.75 0 1,0 3.5,0a1.75,1.75 0 1,0 -3.5,0M143.67,118.63a1.75,1.75 0 1,0 3.5,0a1.75,1.75 0 1,0 -3.5,0M152.25,118.63a1.75,1.75 0 1,0 3.5,0a1.75,1.75 0 1,0 -3.5,0M105.01,127.20a1.75,1.75 0 1,0 3.5,0a1.75,1.75 0 1,0 -3.5,0M113.60,127.20a1.75,1.75 0 1,0 3.5,0a1.75,1.75 0 1,0 -3.5,0M122.19,127.20a1.75,1.75 0 1,0 3.5,0a1.75,1.75 0 1,0 -3.5,0M130.78,127.20a1.75,1.75 0 1,0 3.5,0a1.75,1.75 0 1,0 -3.5,0M139.37,127.20a1.75,1.75 0 1,0 3.5,0a1.75,1.75 0 1,0 -3.5,0M147.96,127.20a1.75,1.75 0 1,0 3.5,0a1.75,1.75 0 1,0 -3.5,0M109.31,135.78a1.75,1.75 0 1,0 3.5,0a1.75,1.75 0 1,0 -3.5,0M117.90,135.78a1.75,1.75 0 1,0 3.5,0a1.75,1.75 0 1,0 -3.5,0M126.48,135.78a1.75,1.75 0 1,0 3.5,0a1.75,1.75 0 1,0 -3.5,0M135.07,135.78a1.75,1.75 0 1,0 3.5,0a1.75,1.75 0 1,0 -3.5,0M178.03,135.78a1.75,1.75 0 1,0 3.5,0a1.75,1.75 0 1,0 -3.5,0M122.19,144.35a1.75,1.75 0 1,0 3.5,0a1.75,1.75 0 1,0 -3.5,0M130.78,144.35a1.75,1.75 0 1,0 3.5,0a1.75,1.75 0 1,0 -3.5,0M139.37,144.35a1.75,1.75 0 1,0 3.5,0a1.75,1.75 0 1,0 -3.5,0M147.96,144.35a1.75,1.75 0 1,0 3.5,0a1.75,1.75 0 1,0 -3.5,0M156.55,144.35a1.75,1.75 0 1,0 3.5,0a1.75,1.75 0 1,0 -3.5,0M165.14,144.35a1.75,1.75 0 1,0 3.5,0a1.75,1.75 0 1,0 -3.5,0M117.90,152.93a1.75,1.75 0 1,0 3.5,0a1.75,1.75 0 1,0 -3.5,0M126.48,152.93a1.75,1.75 0 1,0 3.5,0a1.75,1.75 0 1,0 -3.5,0M135.07,152.93a1.75,1.75 0 1,0 3.5,0a1.75,1.75 0 1,0 -3.5,0M143.67,152.93a1.75,1.75 0 1,0 3.5,0a1.75,1.75 0 1,0 -3.5,0M152.25,152.93a1.75,1.75 0 1,0 3.5,0a1.75,1.75 0 1,0 -3.5,0M160.84,152.93a1.75,1.75 0 1,0 3.5,0a1.75,1.75 0 1,0 -3.5,0M122.19,161.50a1.75,1.75 0 1,0 3.5,0a1.75,1.75 0 1,0 -3.5,0M130.78,161.50a1.75,1.75 0 1,0 3.5,0a1.75,1.75 0 1,0 -3.5,0M139.37,161.50a1.75,1.75 0 1,0 3.5,0a1.75,1.75 0 1,0 -3.5,0" fill="#000" clip-path="url(#land)"/>
<path d="M67.4,63.6 L74.6,64.1 L78.2,59.8 L82.7,58.9 L86.1,55.5 L80.4,48.5 L93.5,43.6 L100.7,44.9 L105.0,48.1 L110.4,50.8 L118.5,57.1 L126.1,64.1 L137.4,64.7 L140.4,58.8 L141.7,58.2 L146.4,58.5 L148.3,60.1 L147.0,61.7 L145.1,62.6 L143.5,63.5 L143.2,66.4 L145.1,68.3 L148.3,68.9 L150.2,72.0 L151.8,74.7 L153.9,76.9 L156.1,79.0 L158.5,81.2 L159.3,82.8 L158.5,85.0 L159.6,87.1 L161.5,89.8 L162.6,92.5 L163.6,93.5 L163.3,89.0 L163.1,85.5 L164.7,84.7 L166.6,85.0 L168.0,86.6 L168.2,89.3 L167.7,92.0 L167.2,93.6 L165.8,95.2 L166.3,96.3 L168.5,97.9 L170.1,99.0 L172.8,97.9 L175.2,97.9 L180.6,97.9 L184.2,96.6 L187.8,93.4 L192.3,89.4 L195.0,85.8 L196.3,83.5 L196.8,86.7 L196.3,89.4 L196.2,93.6 L197.5,96.3 L202.0,99.9 L209.2,101.7 L213.7,105.3 L217.3,108.9 L216.0,111.6 L212.8,116.1 L209.7,120.2 L206.5,121.5 L204.7,125.1 L204.7,129.6 L202.0,132.3 L198.4,134.1 L196.5,137.3 L192.6,138.8 L190.1,140.8 L187.6,143.3 L182.7,144.3 L176.7,145.7 L172.8,147.7 L171.3,151.7 L167.8,153.2 L161.9,155.1 L155.9,157.1 L152.3,159.5 L148.4,161.5 L142.4,163.5 L136.5,166.0 L130.6,168.4 L124.7,170.4 L120.7,170.9 L117.7,168.4 L116.7,162.5 L116.2,160.0 L115.1,155.9 L114.0,153.2 L114.6,150.5 L115.4,147.8 L114.6,146.2 L113.0,143.5 L111.9,140.8 L109.2,138.6 L106.5,135.4 L104.9,130.9 L102.5,125.9 L98.0,122.3 L93.5,117.8 L92.6,112.4 L91.7,107.0 L89.9,102.5 L87.2,98.9 L83.6,97.1 L81.3,93.5 L81.3,89.9 L77.7,84.5 L74.6,81.4 L71.0,76.0 L65.6,71.9Z" fill="none" stroke="#000" stroke-width="1.4" stroke-linejoin="round"/>
<path d="M137.0,65.1 L148.0,68.9" fill="none" stroke="#000" stroke-width="1.25"/>
<path d="M167.8,98.3 L172.9,106.0 L181.5,106.5 L189.4,107.3" fill="none" stroke="#000" stroke-width="1.25"/>
<path d="M189.4,107.3 L191.4,99.3 L193.9,93.6 L196.2,93.2" fill="none" stroke="#000" stroke-width="1.25"/>
<path d="M189.4,107.3 L192.1,109.4 L191.7,113.4 L189.9,119.7 L188.5,124.2 L179.7,127.9 L170.8,130.9" fill="none" stroke="#000" stroke-width="1.25"/>
<path d="M170.8,130.9 L176.2,145.2" fill="none" stroke="#000" stroke-width="1.25"/>
<path d="M115.4,147.8 L117.3,144.0 L117.3,141.3 L118.6,140.3 L121.6,140.5 L128.6,140.3 L136.5,140.8 L140.5,143.7 L143.4,141.7 L145.4,137.8 L149.4,134.3 L154.3,132.8 L159.9,132.4 L170.8,130.9" fill="none" stroke="#000" stroke-width="1.25"/>
<ellipse cx="181.8" cy="171.3" rx="3.2" ry="1.1" fill="#58b0a7" stroke="#000" stroke-width="1.4"/>
<circle cx="171.3" cy="173.3" r="0.6" fill="#000"/>
<ellipse cx="109.7" cy="145.0" rx="1.9" ry="0.9" transform="rotate(40 109.7 145.0)" fill="#000"/>
<rect x="62.4" y="34.6" width="156.0" height="139.6" fill="none" stroke="#000" stroke-width="1.1"/>
<line x1="55.1" y1="174.17" x2="62.4" y2="174.17" stroke="#000" stroke-width="2.5"/>
<line x1="55.1" y1="155.80" x2="62.4" y2="155.80" stroke="#000" stroke-width="2.5"/>
<line x1="55.1" y1="137.17" x2="62.4" y2="137.17" stroke="#000" stroke-width="2.5"/>
<line x1="55.1" y1="118.22" x2="62.4" y2="118.22" stroke="#000" stroke-width="2.5"/>
<line x1="55.1" y1="98.88" x2="62.4" y2="98.88" stroke="#000" stroke-width="2.5"/>
<line x1="55.1" y1="79.09" x2="62.4" y2="79.09" stroke="#000" stroke-width="2.5"/>
<line x1="55.1" y1="58.76" x2="62.4" y2="58.76" stroke="#000" stroke-width="2.5"/>
<line x1="55.1" y1="37.81" x2="62.4" y2="37.81" stroke="#000" stroke-width="2.5"/>
<line x1="74.20" y1="174.2" x2="74.20" y2="181.5" stroke="#000" stroke-width="2.5"/>
<line x1="109.92" y1="174.2" x2="109.92" y2="181.5" stroke="#000" stroke-width="2.5"/>
<line x1="145.65" y1="174.2" x2="145.65" y2="181.5" stroke="#000" stroke-width="2.5"/>
<line x1="181.37" y1="174.2" x2="181.37" y2="181.5" stroke="#000" stroke-width="2.5"/>
<line x1="217.10" y1="174.2" x2="217.10" y2="181.5" stroke="#000" stroke-width="2.5"/>
</g>
<g transform="translate(0,359.2)">
<g clip-path="url(#land)"><rect x="62.4" y="34.6" width="156.0" height="139.6" fill="#def0ed"/>
<path d="M135.8,56.5 L149.5,56.5 L149.5,67.8 L135.8,65.3Z" fill="#a3dbd3"/>
<path d="M66.5,65.3 L74.5,62.8 L82.0,57.8 L87.0,56.5 L93.2,60.3 L97.0,70.3 L95.8,80.3 L93.2,87.8 L87.0,89.0 L82.0,86.5 L77.0,80.3 L69.5,72.8Z" fill="#a3dbd3"/>
<path d="M94.5,75.3 L104.5,74.0 L114.5,72.8 L122.0,77.8 L124.5,87.8 L137.0,90.3 L142.0,100.3 L139.5,107.8 L132.0,112.8 L119.5,115.3 L107.0,115.3 L97.0,110.3 L93.2,100.3 L92.0,87.8Z" fill="#a3dbd3"/>
<path d="M125.8,67.8 L144.5,65.3 L149.5,72.8 L150.8,82.8 L144.5,87.8 L137.0,85.3 L129.5,80.3 L125.8,74.0Z" fill="#a3dbd3"/>
<path d="M137.0,112.8 L147.0,110.3 L155.8,115.3 L158.2,124.0 L152.0,127.8 L142.0,127.8 L137.0,121.5Z" fill="#a3dbd3"/>
<path d="M107.0,125.3 L117.0,122.8 L124.5,127.8 L127.0,136.6 L137.0,140.3 L144.5,142.8 L157.0,141.6 L167.0,140.3 L172.0,142.8 L174.5,147.8 L167.0,154.1 L154.5,157.8 L142.0,162.8 L132.0,165.3 L127.0,169.8 L119.5,170.3 L114.5,157.8 L112.0,145.3 L108.2,135.3Z" fill="#a3dbd3"/>
<path d="M174.5,140.3 L184.5,135.3 L194.5,131.6 L204.5,126.5 L212.0,121.5 L207.0,131.6 L199.5,136.6 L189.5,141.6 L179.5,145.3Z" fill="#a3dbd3"/>
<path d="M73.2,72.8 L79.5,69.0 L87.0,70.3 L93.0,75.3 L92.0,82.8 L85.8,84.0 L77.0,81.5Z" fill="#58b0a7"/>
<path d="M94.2,87.8 L102.0,86.5 L107.0,91.5 L105.8,99.0 L99.5,100.3 L94.5,96.5Z" fill="#58b0a7"/>
<path d="M109.5,130.3 L114.5,129.1 L115.8,134.1 L110.8,135.3Z" fill="#58b0a7"/>
<path d="M117.0,142.8 L124.5,141.6 L129.5,147.8 L128.2,157.8 L123.2,165.3 L118.2,162.8 L116.5,152.8Z" fill="#58b0a7"/>
<path d="M139.5,117.8 L148.2,115.3 L150.8,121.5 L145.8,125.3 L139.5,124.0Z" fill="#58b0a7"/>
<path d="M179.5,140.3 L187.0,137.8 L192.0,139.1 L187.0,144.1 L180.8,144.8Z" fill="#58b0a7"/>
<path d="M78.2,69.8 L83.2,68.8 L86.8,72.8 L85.8,78.3 L80.0,79.0Z" fill="#1a7e76"/>
<path d="M118.2,147.8 L123.2,147.8 L124.5,155.3 L120.8,157.8 L118.2,154.1Z" fill="#1a7e76"/>
<path d="M82.0,61.5 L87.0,60.8 L87.5,64.0 L83.2,64.8Z" fill="#1a7e76"/>
<path d="M164.2,100.3 L171.8,97.8 L184.2,96.5 L192.0,94.0 L195.8,87.8 L198.2,96.5 L199.0,100.3 L205.2,107.8 L201.5,115.0 L196.8,122.5 L190.5,127.5 L181.8,130.1 L171.8,130.1 L164.2,123.8 L163.0,111.3Z" fill="#f5efdc"/>
<path d="M202.0,110.3 L209.5,107.8 L214.5,111.5 L212.0,115.3 L205.8,112.8Z" fill="#a3dbd3"/>
<path d="M147.0,132.8 L157.0,131.6 L167.0,130.3 L169.5,135.3 L159.5,137.8 L149.5,137.8Z" fill="#f5efdc"/>
<path d="M172.0,116.5 L182.0,114.0 L188.2,116.5 L187.0,122.8 L177.0,124.0 L172.0,122.3Z" fill="#ead59f"/>
<path d="M187.0,115.3 L197.0,112.8 L199.5,117.8 L192.0,120.3Z" fill="#ead59f"/>
<path d="M179.5,101.5 L187.0,100.8 L188.2,105.3 L182.0,105.8Z" fill="#ead59f"/>
<path d="M84.5,90.3 L89.0,89.8 L89.5,93.3 L85.0,93.8Z" fill="#ead59f"/>
</g>
<path d="M81.19,71.08a1.75,1.75 0 1,0 3.5,0a1.75,1.75 0 1,0 -3.5,0M106.95,71.08a1.75,1.75 0 1,0 3.5,0a1.75,1.75 0 1,0 -3.5,0M132.72,71.08a1.75,1.75 0 1,0 3.5,0a1.75,1.75 0 1,0 -3.5,0M141.31,71.08a1.75,1.75 0 1,0 3.5,0a1.75,1.75 0 1,0 -3.5,0M128.43,79.65a1.75,1.75 0 1,0 3.5,0a1.75,1.75 0 1,0 -3.5,0M137.02,79.65a1.75,1.75 0 1,0 3.5,0a1.75,1.75 0 1,0 -3.5,0M145.61,79.65a1.75,1.75 0 1,0 3.5,0a1.75,1.75 0 1,0 -3.5,0M98.37,88.23a1.75,1.75 0 1,0 3.5,0a1.75,1.75 0 1,0 -3.5,0M106.95,88.23a1.75,1.75 0 1,0 3.5,0a1.75,1.75 0 1,0 -3.5,0M115.55,88.23a1.75,1.75 0 1,0 3.5,0a1.75,1.75 0 1,0 -3.5,0M124.14,88.23a1.75,1.75 0 1,0 3.5,0a1.75,1.75 0 1,0 -3.5,0M132.72,88.23a1.75,1.75 0 1,0 3.5,0a1.75,1.75 0 1,0 -3.5,0M141.31,88.23a1.75,1.75 0 1,0 3.5,0a1.75,1.75 0 1,0 -3.5,0M102.66,96.80a1.75,1.75 0 1,0 3.5,0a1.75,1.75 0 1,0 -3.5,0M111.25,96.80a1.75,1.75 0 1,0 3.5,0a1.75,1.75 0 1,0 -3.5,0M119.84,96.80a1.75,1.75 0 1,0 3.5,0a1.75,1.75 0 1,0 -3.5,0M128.43,96.80a1.75,1.75 0 1,0 3.5,0a1.75,1.75 0 1,0 -3.5,0M98.37,105.38a1.75,1.75 0 1,0 3.5,0a1.75,1.75 0 1,0 -3.5,0M106.95,105.38a1.75,1.75 0 1,0 3.5,0a1.75,1.75 0 1,0 -3.5,0M115.55,105.38a1.75,1.75 0 1,0 3.5,0a1.75,1.75 0 1,0 -3.5,0M124.14,105.38a1.75,1.75 0 1,0 3.5,0a1.75,1.75 0 1,0 -3.5,0M132.72,105.38a1.75,1.75 0 1,0 3.5,0a1.75,1.75 0 1,0 -3.5,0M111.25,113.95a1.75,1.75 0 1,0 3.5,0a1.75,1.75 0 1,0 -3.5,0M119.84,113.95a1.75,1.75 0 1,0 3.5,0a1.75,1.75 0 1,0 -3.5,0M128.43,113.95a1.75,1.75 0 1,0 3.5,0a1.75,1.75 0 1,0 -3.5,0M132.72,122.53a1.75,1.75 0 1,0 3.5,0a1.75,1.75 0 1,0 -3.5,0M141.31,122.53a1.75,1.75 0 1,0 3.5,0a1.75,1.75 0 1,0 -3.5,0M149.91,122.53a1.75,1.75 0 1,0 3.5,0a1.75,1.75 0 1,0 -3.5,0M111.25,131.10a1.75,1.75 0 1,0 3.5,0a1.75,1.75 0 1,0 -3.5,0M119.84,131.10a1.75,1.75 0 1,0 3.5,0a1.75,1.75 0 1,0 -3.5,0M115.55,139.68a1.75,1.75 0 1,0 3.5,0a1.75,1.75 0 1,0 -3.5,0M124.14,139.68a1.75,1.75 0 1,0 3.5,0a1.75,1.75 0 1,0 -3.5,0M132.72,139.68a1.75,1.75 0 1,0 3.5,0a1.75,1.75 0 1,0 -3.5,0M175.68,139.68a1.75,1.75 0 1,0 3.5,0a1.75,1.75 0 1,0 -3.5,0M119.84,148.25a1.75,1.75 0 1,0 3.5,0a1.75,1.75 0 1,0 -3.5,0M128.43,148.25a1.75,1.75 0 1,0 3.5,0a1.75,1.75 0 1,0 -3.5,0M137.02,148.25a1.75,1.75 0 1,0 3.5,0a1.75,1.75 0 1,0 -3.5,0M145.61,148.25a1.75,1.75 0 1,0 3.5,0a1.75,1.75 0 1,0 -3.5,0M154.20,148.25a1.75,1.75 0 1,0 3.5,0a1.75,1.75 0 1,0 -3.5,0M162.79,148.25a1.75,1.75 0 1,0 3.5,0a1.75,1.75 0 1,0 -3.5,0M124.14,156.82a1.75,1.75 0 1,0 3.5,0a1.75,1.75 0 1,0 -3.5,0M132.72,156.82a1.75,1.75 0 1,0 3.5,0a1.75,1.75 0 1,0 -3.5,0M141.31,156.82a1.75,1.75 0 1,0 3.5,0a1.75,1.75 0 1,0 -3.5,0M119.84,165.40a1.75,1.75 0 1,0 3.5,0a1.75,1.75 0 1,0 -3.5,0M128.43,165.40a1.75,1.75 0 1,0 3.5,0a1.75,1.75 0 1,0 -3.5,0" fill="#000" clip-path="url(#land)"/>
<path d="M67.4,63.6 L74.6,64.1 L78.2,59.8 L82.7,58.9 L86.1,55.5 L80.4,48.5 L93.5,43.6 L100.7,44.9 L105.0,48.1 L110.4,50.8 L118.5,57.1 L126.1,64.1 L137.4,64.7 L140.4,58.8 L141.7,58.2 L146.4,58.5 L148.3,60.1 L147.0,61.7 L145.1,62.6 L143.5,63.5 L143.2,66.4 L145.1,68.3 L148.3,68.9 L150.2,72.0 L151.8,74.7 L153.9,76.9 L156.1,79.0 L158.5,81.2 L159.3,82.8 L158.5,85.0 L159.6,87.1 L161.5,89.8 L162.6,92.5 L163.6,93.5 L163.3,89.0 L163.1,85.5 L164.7,84.7 L166.6,85.0 L168.0,86.6 L168.2,89.3 L167.7,92.0 L167.2,93.6 L165.8,95.2 L166.3,96.3 L168.5,97.9 L170.1,99.0 L172.8,97.9 L175.2,97.9 L180.6,97.9 L184.2,96.6 L187.8,93.4 L192.3,89.4 L195.0,85.8 L196.3,83.5 L196.8,86.7 L196.3,89.4 L196.2,93.6 L197.5,96.3 L202.0,99.9 L209.2,101.7 L213.7,105.3 L217.3,108.9 L216.0,111.6 L212.8,116.1 L209.7,120.2 L206.5,121.5 L204.7,125.1 L204.7,129.6 L202.0,132.3 L198.4,134.1 L196.5,137.3 L192.6,138.8 L190.1,140.8 L187.6,143.3 L182.7,144.3 L176.7,145.7 L172.8,147.7 L171.3,151.7 L167.8,153.2 L161.9,155.1 L155.9,157.1 L152.3,159.5 L148.4,161.5 L142.4,163.5 L136.5,166.0 L130.6,168.4 L124.7,170.4 L120.7,170.9 L117.7,168.4 L116.7,162.5 L116.2,160.0 L115.1,155.9 L114.0,153.2 L114.6,150.5 L115.4,147.8 L114.6,146.2 L113.0,143.5 L111.9,140.8 L109.2,138.6 L106.5,135.4 L104.9,130.9 L102.5,125.9 L98.0,122.3 L93.5,117.8 L92.6,112.4 L91.7,107.0 L89.9,102.5 L87.2,98.9 L83.6,97.1 L81.3,93.5 L81.3,89.9 L77.7,84.5 L74.6,81.4 L71.0,76.0 L65.6,71.9Z" fill="none" stroke="#000" stroke-width="1.4" stroke-linejoin="round"/>
<path d="M137.0,65.1 L148.0,68.9" fill="none" stroke="#000" stroke-width="1.25"/>
<path d="M167.8,98.3 L172.9,106.0 L181.5,106.5 L189.4,107.3" fill="none" stroke="#000" stroke-width="1.25"/>
<path d="M189.4,107.3 L191.4,99.3 L193.9,93.6 L196.2,93.2" fill="none" stroke="#000" stroke-width="1.25"/>
<path d="M189.4,107.3 L192.1,109.4 L191.7,113.4 L189.9,119.7 L188.5,124.2 L179.7,127.9 L170.8,130.9" fill="none" stroke="#000" stroke-width="1.25"/>
<path d="M170.8,130.9 L176.2,145.2" fill="none" stroke="#000" stroke-width="1.25"/>
<path d="M115.4,147.8 L117.3,144.0 L117.3,141.3 L118.6,140.3 L121.6,140.5 L128.6,140.3 L136.5,140.8 L140.5,143.7 L143.4,141.7 L145.4,137.8 L149.4,134.3 L154.3,132.8 L159.9,132.4 L170.8,130.9" fill="none" stroke="#000" stroke-width="1.25"/>
<ellipse cx="181.8" cy="171.3" rx="3.2" ry="1.1" fill="#def0ed" stroke="#000" stroke-width="1.4"/>
<circle cx="171.3" cy="173.3" r="0.6" fill="#000"/>
<ellipse cx="109.7" cy="145.0" rx="1.9" ry="0.9" transform="rotate(40 109.7 145.0)" fill="#000"/>
<rect x="62.4" y="34.6" width="156.0" height="139.6" fill="none" stroke="#000" stroke-width="1.1"/>
<line x1="55.1" y1="174.17" x2="62.4" y2="174.17" stroke="#000" stroke-width="2.5"/>
<line x1="55.1" y1="155.80" x2="62.4" y2="155.80" stroke="#000" stroke-width="2.5"/>
<line x1="55.1" y1="137.17" x2="62.4" y2="137.17" stroke="#000" stroke-width="2.5"/>
<line x1="55.1" y1="118.22" x2="62.4" y2="118.22" stroke="#000" stroke-width="2.5"/>
<line x1="55.1" y1="98.88" x2="62.4" y2="98.88" stroke="#000" stroke-width="2.5"/>
<line x1="55.1" y1="79.09" x2="62.4" y2="79.09" stroke="#000" stroke-width="2.5"/>
<line x1="55.1" y1="58.76" x2="62.4" y2="58.76" stroke="#000" stroke-width="2.5"/>
<line x1="55.1" y1="37.81" x2="62.4" y2="37.81" stroke="#000" stroke-width="2.5"/>
<line x1="74.20" y1="174.2" x2="74.20" y2="181.5" stroke="#000" stroke-width="2.5"/>
<line x1="109.92" y1="174.2" x2="109.92" y2="181.5" stroke="#000" stroke-width="2.5"/>
<line x1="145.65" y1="174.2" x2="145.65" y2="181.5" stroke="#000" stroke-width="2.5"/>
<line x1="181.37" y1="174.2" x2="181.37" y2="181.5" stroke="#000" stroke-width="2.5"/>
<line x1="217.10" y1="174.2" x2="217.10" y2="181.5" stroke="#000" stroke-width="2.5"/>
</g>
<g transform="translate(192.0,359.2)">
<g clip-path="url(#land)"><rect x="62.4" y="34.6" width="156.0" height="139.6" fill="#def0ed"/>
<path d="M135.8,56.5 L149.5,56.5 L149.5,67.8 L135.8,65.3Z" fill="#a3dbd3"/>
<path d="M66.5,65.3 L77.0,61.5 L82.0,47.8 L94.5,45.3 L104.5,47.8 L112.0,57.8 L119.5,65.3 L122.0,75.3 L117.0,87.8 L112.0,95.3 L99.5,97.8 L92.0,92.8 L84.5,87.8 L77.0,80.3 L69.5,72.8Z" fill="#a3dbd3"/>
<path d="M129.5,65.3 L144.5,64.0 L148.2,69.0 L153.2,80.3 L157.0,90.3 L162.0,97.8 L152.0,100.3 L142.0,100.3 L132.0,100.3 L124.5,97.8 L122.0,87.8 L127.0,77.8Z" fill="#a3dbd3"/>
<path d="M104.5,101.5 L117.0,100.3 L127.0,102.8 L129.5,110.3 L122.0,112.8 L112.0,112.8 L105.8,109.0Z" fill="#a3dbd3"/>
<path d="M137.0,110.3 L147.0,107.8 L157.0,112.8 L159.5,122.8 L152.0,127.8 L139.5,126.5Z" fill="#a3dbd3"/>
<path d="M107.0,122.8 L119.5,124.0 L129.5,131.6 L137.0,137.8 L147.0,137.8 L162.0,136.6 L172.0,137.8 L182.0,135.3 L192.0,131.6 L202.0,125.3 L209.5,117.8 L214.5,112.8 L212.0,120.3 L207.0,131.6 L199.5,136.6 L189.5,141.6 L179.5,145.3 L172.0,152.8 L162.0,156.6 L149.5,161.6 L137.0,164.1 L127.0,169.8 L119.5,170.3 L114.5,157.8 L110.8,145.3 L108.2,135.3Z" fill="#a3dbd3"/>
<path d="M197.0,97.8 L204.5,101.5 L212.0,107.8 L214.5,111.5 L209.5,114.0 L202.0,111.5 L197.0,107.8Z" fill="#a3dbd3"/>
<path d="M174.5,100.3 L187.0,100.3 L192.0,92.8 L195.8,85.3 L198.2,97.8 L192.0,105.3 L182.0,105.3Z" fill="#a3dbd3"/>
<path d="M69.5,67.8 L77.0,65.3 L84.5,67.8 L89.5,75.3 L94.5,80.3 L102.0,80.3 L104.5,87.8 L99.5,90.3 L92.0,87.8 L84.5,85.3 L77.0,80.3 L72.0,74.0Z" fill="#58b0a7"/>
<path d="M109.5,125.3 L119.5,126.5 L127.0,132.8 L129.5,140.3 L137.0,142.8 L149.5,144.1 L162.0,142.8 L172.0,141.6 L179.5,140.3 L187.0,137.8 L197.0,132.8 L204.5,126.5 L209.5,121.5 L207.0,131.6 L199.5,136.6 L189.5,141.6 L179.5,145.3 L172.0,152.8 L162.0,155.8 L149.5,160.3 L137.0,162.8 L127.0,167.8 L119.5,169.1 L115.0,157.8 L112.0,142.8 L109.5,134.1Z" fill="#58b0a7"/>
<path d="M139.5,112.8 L145.8,111.5 L148.2,117.8 L144.5,122.8 L140.0,120.3Z" fill="#58b0a7"/>
<path d="M124.5,92.8 L134.5,91.5 L137.0,97.8 L129.5,100.3 L125.0,97.8Z" fill="#58b0a7"/>
<path d="M147.0,136.8 L159.5,134.3 L171.8,130.6 L184.2,125.5 L194.2,119.5 L201.5,113.3 L209.0,108.3 L214.0,105.8 L224.5,105.8 L224.5,177.8 L112.0,177.8 L112.0,155.3 L137.0,145.3Z" fill="#58b0a7"/>
<path d="M109.5,125.3 L119.5,125.8 L126.5,132.8 L129.5,141.8 L132.5,142.8 L133.0,152.8 L132.5,162.8 L129.5,167.8 L122.0,169.8 L117.5,162.8 L115.0,150.3 L112.0,140.3Z" fill="#1a7e76"/>
<path d="M147.0,149.3 L159.5,146.8 L171.8,139.3 L184.2,134.3 L190.5,133.1 L196.8,130.6 L203.2,124.0 L209.5,122.8 L212.0,137.8 L187.0,152.8 L162.0,167.8 L137.0,172.8 L132.5,162.8 L137.0,156.6Z" fill="#1a7e76"/>
<path d="M182.0,137.8 L192.0,134.1 L199.5,130.3 L197.0,136.6 L189.5,140.3 L183.2,140.8Z" fill="#1a7e76"/>
<path d="M129.5,157.8 L144.5,155.3 L157.0,152.8 L167.0,150.3 L169.5,154.1 L157.0,157.3 L144.5,160.8 L132.0,162.8Z" fill="#1a7e76"/>
<path d="M77.0,72.8 L83.2,71.5 L85.8,77.8 L82.0,81.5 L77.5,77.8Z" fill="#1a7e76"/>
<path d="M111.5,130.6 L117.8,130.6 L118.5,138.1 L113.2,139.1Z" fill="#005046"/>
<path d="M121.5,160.3 L129.0,159.8 L129.5,167.3 L122.0,168.3Z" fill="#005046"/>
<path d="M162.0,112.8 L172.0,107.8 L184.5,107.8 L192.0,109.0 L193.2,115.3 L187.0,120.3 L179.5,124.0 L169.5,126.5 L162.0,124.0Z" fill="#f5efdc"/>
<path d="M134.5,132.8 L147.0,131.6 L159.5,130.3 L167.0,132.8 L162.0,136.6 L149.5,137.8 L137.0,137.8Z" fill="#f5efdc"/>
<path d="M77.0,61.5 L82.0,60.8 L82.5,67.3 L78.0,68.3Z" fill="#f5efdc"/>
<path d="M189.5,110.3 L197.0,109.0 L199.5,115.3 L193.2,117.3Z" fill="#f5efdc"/>
<path d="M172.0,116.5 L179.5,114.0 L184.5,116.5 L182.0,121.5 L174.5,122.8Z" fill="#ead59f"/>
<path d="M84.5,90.3 L89.5,89.0 L91.5,94.0 L87.0,95.8 L84.5,94.0Z" fill="#ead59f"/>
<path d="M85.8,90.8 L89.5,90.3 L90.2,93.8 L86.5,94.8Z" fill="#cfa256"/>
</g>
<path d="M99.64,62.50a1.75,1.75 0 1,0 3.5,0a1.75,1.75 0 1,0 -3.5,0M86.75,71.08a1.75,1.75 0 1,0 3.5,0a1.75,1.75 0 1,0 -3.5,0M95.35,71.08a1.75,1.75 0 1,0 3.5,0a1.75,1.75 0 1,0 -3.5,0M103.94,71.08a1.75,1.75 0 1,0 3.5,0a1.75,1.75 0 1,0 -3.5,0M112.52,71.08a1.75,1.75 0 1,0 3.5,0a1.75,1.75 0 1,0 -3.5,0M82.46,79.65a1.75,1.75 0 1,0 3.5,0a1.75,1.75 0 1,0 -3.5,0M91.05,79.65a1.75,1.75 0 1,0 3.5,0a1.75,1.75 0 1,0 -3.5,0M99.64,79.65a1.75,1.75 0 1,0 3.5,0a1.75,1.75 0 1,0 -3.5,0M108.23,79.65a1.75,1.75 0 1,0 3.5,0a1.75,1.75 0 1,0 -3.5,0M134.00,79.65a1.75,1.75 0 1,0 3.5,0a1.75,1.75 0 1,0 -3.5,0M142.59,79.65a1.75,1.75 0 1,0 3.5,0a1.75,1.75 0 1,0 -3.5,0M95.35,88.23a1.75,1.75 0 1,0 3.5,0a1.75,1.75 0 1,0 -3.5,0M138.30,88.23a1.75,1.75 0 1,0 3.5,0a1.75,1.75 0 1,0 -3.5,0M146.88,88.23a1.75,1.75 0 1,0 3.5,0a1.75,1.75 0 1,0 -3.5,0M125.41,96.80a1.75,1.75 0 1,0 3.5,0a1.75,1.75 0 1,0 -3.5,0M134.00,96.80a1.75,1.75 0 1,0 3.5,0a1.75,1.75 0 1,0 -3.5,0M142.59,96.80a1.75,1.75 0 1,0 3.5,0a1.75,1.75 0 1,0 -3.5,0M159.77,96.80a1.75,1.75 0 1,0 3.5,0a1.75,1.75 0 1,0 -3.5,0M112.52,105.38a1.75,1.75 0 1,0 3.5,0a1.75,1.75 0 1,0 -3.5,0M121.12,105.38a1.75,1.75 0 1,0 3.5,0a1.75,1.75 0 1,0 -3.5,0M129.70,105.38a1.75,1.75 0 1,0 3.5,0a1.75,1.75 0 1,0 -3.5,0M108.23,113.95a1.75,1.75 0 1,0 3.5,0a1.75,1.75 0 1,0 -3.5,0M142.59,113.95a1.75,1.75 0 1,0 3.5,0a1.75,1.75 0 1,0 -3.5,0M121.12,122.53a1.75,1.75 0 1,0 3.5,0a1.75,1.75 0 1,0 -3.5,0M129.70,122.53a1.75,1.75 0 1,0 3.5,0a1.75,1.75 0 1,0 -3.5,0M146.88,122.53a1.75,1.75 0 1,0 3.5,0a1.75,1.75 0 1,0 -3.5,0M108.23,131.10a1.75,1.75 0 1,0 3.5,0a1.75,1.75 0 1,0 -3.5,0M116.82,131.10a1.75,1.75 0 1,0 3.5,0a1.75,1.75 0 1,0 -3.5,0M125.41,131.10a1.75,1.75 0 1,0 3.5,0a1.75,1.75 0 1,0 -3.5,0M112.52,139.68a1.75,1.75 0 1,0 3.5,0a1.75,1.75 0 1,0 -3.5,0M121.12,139.68a1.75,1.75 0 1,0 3.5,0a1.75,1.75 0 1,0 -3.5,0M129.70,139.68a1.75,1.75 0 1,0 3.5,0a1.75,1.75 0 1,0 -3.5,0M164.06,139.68a1.75,1.75 0 1,0 3.5,0a1.75,1.75 0 1,0 -3.5,0M181.25,139.68a1.75,1.75 0 1,0 3.5,0a1.75,1.75 0 1,0 -3.5,0M116.82,148.25a1.75,1.75 0 1,0 3.5,0a1.75,1.75 0 1,0 -3.5,0M125.41,148.25a1.75,1.75 0 1,0 3.5,0a1.75,1.75 0 1,0 -3.5,0M134.00,148.25a1.75,1.75 0 1,0 3.5,0a1.75,1.75 0 1,0 -3.5,0M142.59,148.25a1.75,1.75 0 1,0 3.5,0a1.75,1.75 0 1,0 -3.5,0M151.18,148.25a1.75,1.75 0 1,0 3.5,0a1.75,1.75 0 1,0 -3.5,0M159.77,148.25a1.75,1.75 0 1,0 3.5,0a1.75,1.75 0 1,0 -3.5,0M168.36,148.25a1.75,1.75 0 1,0 3.5,0a1.75,1.75 0 1,0 -3.5,0M121.12,156.82a1.75,1.75 0 1,0 3.5,0a1.75,1.75 0 1,0 -3.5,0M129.70,156.82a1.75,1.75 0 1,0 3.5,0a1.75,1.75 0 1,0 -3.5,0M138.30,156.82a1.75,1.75 0 1,0 3.5,0a1.75,1.75 0 1,0 -3.5,0M146.88,156.82a1.75,1.75 0 1,0 3.5,0a1.75,1.75 0 1,0 -3.5,0M155.48,156.82a1.75,1.75 0 1,0 3.5,0a1.75,1.75 0 1,0 -3.5,0M116.82,165.40a1.75,1.75 0 1,0 3.5,0a1.75,1.75 0 1,0 -3.5,0M125.41,165.40a1.75,1.75 0 1,0 3.5,0a1.75,1.75 0 1,0 -3.5,0" fill="#000" clip-path="url(#land)"/>
<path d="M67.4,63.6 L74.6,64.1 L78.2,59.8 L82.7,58.9 L86.1,55.5 L80.4,48.5 L93.5,43.6 L100.7,44.9 L105.0,48.1 L110.4,50.8 L118.5,57.1 L126.1,64.1 L137.4,64.7 L140.4,58.8 L141.7,58.2 L146.4,58.5 L148.3,60.1 L147.0,61.7 L145.1,62.6 L143.5,63.5 L143.2,66.4 L145.1,68.3 L148.3,68.9 L150.2,72.0 L151.8,74.7 L153.9,76.9 L156.1,79.0 L158.5,81.2 L159.3,82.8 L158.5,85.0 L159.6,87.1 L161.5,89.8 L162.6,92.5 L163.6,93.5 L163.3,89.0 L163.1,85.5 L164.7,84.7 L166.6,85.0 L168.0,86.6 L168.2,89.3 L167.7,92.0 L167.2,93.6 L165.8,95.2 L166.3,96.3 L168.5,97.9 L170.1,99.0 L172.8,97.9 L175.2,97.9 L180.6,97.9 L184.2,96.6 L187.8,93.4 L192.3,89.4 L195.0,85.8 L196.3,83.5 L196.8,86.7 L196.3,89.4 L196.2,93.6 L197.5,96.3 L202.0,99.9 L209.2,101.7 L213.7,105.3 L217.3,108.9 L216.0,111.6 L212.8,116.1 L209.7,120.2 L206.5,121.5 L204.7,125.1 L204.7,129.6 L202.0,132.3 L198.4,134.1 L196.5,137.3 L192.6,138.8 L190.1,140.8 L187.6,143.3 L182.7,144.3 L176.7,145.7 L172.8,147.7 L171.3,151.7 L167.8,153.2 L161.9,155.1 L155.9,157.1 L152.3,159.5 L148.4,161.5 L142.4,163.5 L136.5,166.0 L130.6,168.4 L124.7,170.4 L120.7,170.9 L117.7,168.4 L116.7,162.5 L116.2,160.0 L115.1,155.9 L114.0,153.2 L114.6,150.5 L115.4,147.8 L114.6,146.2 L113.0,143.5 L111.9,140.8 L109.2,138.6 L106.5,135.4 L104.9,130.9 L102.5,125.9 L98.0,122.3 L93.5,117.8 L92.6,112.4 L91.7,107.0 L89.9,102.5 L87.2,98.9 L83.6,97.1 L81.3,93.5 L81.3,89.9 L77.7,84.5 L74.6,81.4 L71.0,76.0 L65.6,71.9Z" fill="none" stroke="#000" stroke-width="1.4" stroke-linejoin="round"/>
<path d="M137.0,65.1 L148.0,68.9" fill="none" stroke="#000" stroke-width="1.25"/>
<path d="M167.8,98.3 L172.9,106.0 L181.5,106.5 L189.4,107.3" fill="none" stroke="#000" stroke-width="1.25"/>
<path d="M189.4,107.3 L191.4,99.3 L193.9,93.6 L196.2,93.2" fill="none" stroke="#000" stroke-width="1.25"/>
<path d="M189.4,107.3 L192.1,109.4 L191.7,113.4 L189.9,119.7 L188.5,124.2 L179.7,127.9 L170.8,130.9" fill="none" stroke="#000" stroke-width="1.25"/>
<path d="M170.8,130.9 L176.2,145.2" fill="none" stroke="#000" stroke-width="1.25"/>
<path d="M115.4,147.8 L117.3,144.0 L117.3,141.3 L118.6,140.3 L121.6,140.5 L128.6,140.3 L136.5,140.8 L140.5,143.7 L143.4,141.7 L145.4,137.8 L149.4,134.3 L154.3,132.8 L159.9,132.4 L170.8,130.9" fill="none" stroke="#000" stroke-width="1.25"/>
<ellipse cx="181.8" cy="171.3" rx="3.2" ry="1.1" fill="#58b0a7" stroke="#000" stroke-width="1.4"/>
<circle cx="171.3" cy="173.3" r="0.6" fill="#000"/>
<ellipse cx="109.7" cy="145.0" rx="1.9" ry="0.9" transform="rotate(40 109.7 145.0)" fill="#000"/>
<rect x="62.4" y="34.6" width="156.0" height="139.6" fill="none" stroke="#000" stroke-width="1.1"/>
<line x1="55.1" y1="174.17" x2="62.4" y2="174.17" stroke="#000" stroke-width="2.5"/>
<line x1="55.1" y1="155.80" x2="62.4" y2="155.80" stroke="#000" stroke-width="2.5"/>
<line x1="55.1" y1="137.17" x2="62.4" y2="137.17" stroke="#000" stroke-width="2.5"/>
<line x1="55.1" y1="118.22" x2="62.4" y2="118.22" stroke="#000" stroke-width="2.5"/>
<line x1="55.1" y1="98.88" x2="62.4" y2="98.88" stroke="#000" stroke-width="2.5"/>
<line x1="55.1" y1="79.09" x2="62.4" y2="79.09" stroke="#000" stroke-width="2.5"/>
<line x1="55.1" y1="58.76" x2="62.4" y2="58.76" stroke="#000" stroke-width="2.5"/>
<line x1="55.1" y1="37.81" x2="62.4" y2="37.81" stroke="#000" stroke-width="2.5"/>
<line x1="74.20" y1="174.2" x2="74.20" y2="181.5" stroke="#000" stroke-width="2.5"/>
<line x1="109.92" y1="174.2" x2="109.92" y2="181.5" stroke="#000" stroke-width="2.5"/>
<line x1="145.65" y1="174.2" x2="145.65" y2="181.5" stroke="#000" stroke-width="2.5"/>
<line x1="181.37" y1="174.2" x2="181.37" y2="181.5" stroke="#000" stroke-width="2.5"/>
<line x1="217.10" y1="174.2" x2="217.10" y2="181.5" stroke="#000" stroke-width="2.5"/>
</g>
<g transform="translate(384.2,359.2)">
<g clip-path="url(#land)"><rect x="62.4" y="34.6" width="156.0" height="139.6" fill="#a3dbd3"/>
<path d="M135.6,56.5 L149.3,56.5 L149.3,67.8 L135.6,65.3Z" fill="#1a7e76"/>
<path d="M161.8,110.3 L171.8,105.3 L184.3,106.5 L190.6,110.3 L188.1,117.8 L179.3,122.8 L169.3,125.3 L163.1,121.5Z" fill="#def0ed"/>
<path d="M171.8,100.3 L186.8,99.0 L191.8,92.8 L195.6,85.3 L196.8,96.5 L191.8,102.8 L184.3,105.3 L174.3,104.0Z" fill="#def0ed"/>
<path d="M193.1,102.8 L200.6,104.0 L205.6,110.3 L201.8,115.3 L196.8,115.3 L191.8,111.5Z" fill="#def0ed"/>
<path d="M96.8,62.8 L104.3,61.5 L105.5,66.5 L98.0,67.3Z" fill="#def0ed"/>
<path d="M136.8,136.6 L149.3,134.1 L161.8,132.8 L164.3,136.6 L151.8,139.1 L139.3,140.3Z" fill="#def0ed"/>
<path d="M86.8,72.8 L99.3,70.3 L111.8,72.8 L119.3,80.3 L116.8,92.8 L111.8,100.3 L101.8,100.3 L94.3,95.3 L89.3,85.3Z" fill="#58b0a7"/>
<path d="M131.8,65.3 L144.3,64.0 L148.1,69.0 L151.8,77.8 L146.8,82.8 L139.3,85.3 L134.3,80.3 L130.6,72.8Z" fill="#58b0a7"/>
<path d="M134.3,100.3 L144.3,97.8 L154.3,102.8 L156.8,112.8 L151.8,120.3 L141.8,122.8 L134.3,117.8 L131.8,107.8Z" fill="#58b0a7"/>
<path d="M104.3,120.3 L116.8,122.8 L126.8,130.3 L136.8,132.8 L149.3,132.8 L156.8,134.1 L161.8,132.8 L171.8,130.3 L181.8,125.3 L191.8,122.8 L201.8,117.8 L209.3,112.8 L214.3,110.3 L211.8,120.3 L206.8,130.3 L199.3,136.6 L189.3,141.6 L179.3,145.3 L171.8,152.8 L161.8,156.6 L149.3,161.6 L136.8,164.1 L126.8,169.8 L119.3,170.3 L114.3,157.8 L110.5,145.3 L106.8,132.8Z" fill="#58b0a7"/>
<path d="M201.8,100.3 L209.3,104.0 L214.8,110.3 L211.8,115.3 L206.8,112.8 L201.8,107.8Z" fill="#58b0a7"/>
<path d="M171.8,104.0 L181.8,105.3 L186.8,109.0 L179.3,110.3 L173.1,109.0Z" fill="#58b0a7"/>
<path d="M156.8,87.8 L161.8,87.8 L163.1,97.8 L158.1,100.3 L155.6,95.3Z" fill="#58b0a7"/>
<path d="M109.3,125.3 L119.3,126.5 L126.8,132.8 L131.8,137.8 L144.3,139.1 L156.8,139.1 L166.8,137.8 L171.8,135.8 L184.1,130.6 L194.1,125.5 L201.3,119.5 L208.8,112.0 L212.6,108.3 L214.8,110.3 L211.8,121.5 L206.8,131.6 L199.3,136.6 L189.3,141.6 L179.3,145.8 L171.8,152.8 L161.8,156.6 L149.3,161.6 L136.8,164.1 L126.8,169.8 L119.3,170.3 L114.8,157.8 L111.8,145.3 L109.3,135.3Z" fill="#1a7e76"/>
<path d="M146.8,151.8 L159.3,146.8 L171.6,143.1 L184.1,138.1 L194.1,133.1 L201.3,126.8 L207.6,119.5 L213.8,112.0 L216.3,109.5 L221.8,109.5 L221.8,177.8 L121.8,177.8 L121.8,164.1 L134.3,157.8Z" fill="#005046"/>
<path d="M68.0,66.5 L76.8,64.0 L86.8,64.8 L91.3,69.0 L90.5,76.5 L84.3,79.8 L75.5,79.0 L69.3,74.0Z" fill="#1a7e76"/>
<path d="M99.3,80.3 L106.8,79.0 L108.0,85.3 L101.8,86.5Z" fill="#1a7e76"/>
<path d="M115.5,142.8 L124.3,142.8 L129.3,150.3 L131.8,157.8 L126.8,165.3 L121.8,169.1 L116.8,162.8 L114.8,152.8Z" fill="#005046"/>
<path d="M72.3,69.0 L79.3,66.5 L86.8,68.3 L86.8,74.0 L81.8,76.8 L74.3,75.3Z" fill="#005046"/>
<path d="M201.8,125.3 L209.3,119.0 L213.1,114.0 L211.8,120.3 L206.8,127.8Z" fill="#005046"/>
<path d="M111.8,129.1 L118.0,129.1 L120.5,135.3 L114.3,136.6Z" fill="#005046"/>
<path d="M169.3,122.8 L176.8,121.5 L178.1,126.5 L171.8,127.3Z" fill="#f5efdc"/>
<path d="M81.8,89.0 L84.8,88.5 L85.3,92.8 L82.3,93.3Z" fill="#f5efdc"/>
</g>
<path d="M105.01,62.50a1.75,1.75 0 1,0 3.5,0a1.75,1.75 0 1,0 -3.5,0M113.60,62.50a1.75,1.75 0 1,0 3.5,0a1.75,1.75 0 1,0 -3.5,0M122.19,62.50a1.75,1.75 0 1,0 3.5,0a1.75,1.75 0 1,0 -3.5,0M74.95,71.08a1.75,1.75 0 1,0 3.5,0a1.75,1.75 0 1,0 -3.5,0M83.54,71.08a1.75,1.75 0 1,0 3.5,0a1.75,1.75 0 1,0 -3.5,0M92.12,71.08a1.75,1.75 0 1,0 3.5,0a1.75,1.75 0 1,0 -3.5,0M100.72,71.08a1.75,1.75 0 1,0 3.5,0a1.75,1.75 0 1,0 -3.5,0M109.31,71.08a1.75,1.75 0 1,0 3.5,0a1.75,1.75 0 1,0 -3.5,0M117.90,71.08a1.75,1.75 0 1,0 3.5,0a1.75,1.75 0 1,0 -3.5,0M126.48,71.08a1.75,1.75 0 1,0 3.5,0a1.75,1.75 0 1,0 -3.5,0M135.07,71.08a1.75,1.75 0 1,0 3.5,0a1.75,1.75 0 1,0 -3.5,0M143.67,71.08a1.75,1.75 0 1,0 3.5,0a1.75,1.75 0 1,0 -3.5,0M87.83,79.65a1.75,1.75 0 1,0 3.5,0a1.75,1.75 0 1,0 -3.5,0M96.42,79.65a1.75,1.75 0 1,0 3.5,0a1.75,1.75 0 1,0 -3.5,0M105.01,79.65a1.75,1.75 0 1,0 3.5,0a1.75,1.75 0 1,0 -3.5,0M113.60,79.65a1.75,1.75 0 1,0 3.5,0a1.75,1.75 0 1,0 -3.5,0M122.19,79.65a1.75,1.75 0 1,0 3.5,0a1.75,1.75 0 1,0 -3.5,0M130.78,79.65a1.75,1.75 0 1,0 3.5,0a1.75,1.75 0 1,0 -3.5,0M139.37,79.65a1.75,1.75 0 1,0 3.5,0a1.75,1.75 0 1,0 -3.5,0M147.96,79.65a1.75,1.75 0 1,0 3.5,0a1.75,1.75 0 1,0 -3.5,0M92.12,88.23a1.75,1.75 0 1,0 3.5,0a1.75,1.75 0 1,0 -3.5,0M100.72,88.23a1.75,1.75 0 1,0 3.5,0a1.75,1.75 0 1,0 -3.5,0M109.31,88.23a1.75,1.75 0 1,0 3.5,0a1.75,1.75 0 1,0 -3.5,0M117.90,88.23a1.75,1.75 0 1,0 3.5,0a1.75,1.75 0 1,0 -3.5,0M126.48,88.23a1.75,1.75 0 1,0 3.5,0a1.75,1.75 0 1,0 -3.5,0M135.07,88.23a1.75,1.75 0 1,0 3.5,0a1.75,1.75 0 1,0 -3.5,0M143.67,88.23a1.75,1.75 0 1,0 3.5,0a1.75,1.75 0 1,0 -3.5,0M152.25,88.23a1.75,1.75 0 1,0 3.5,0a1.75,1.75 0 1,0 -3.5,0M96.42,96.80a1.75,1.75 0 1,0 3.5,0a1.75,1.75 0 1,0 -3.5,0M105.01,96.80a1.75,1.75 0 1,0 3.5,0a1.75,1.75 0 1,0 -3.5,0M113.60,96.80a1.75,1.75 0 1,0 3.5,0a1.75,1.75 0 1,0 -3.5,0M122.19,96.80a1.75,1.75 0 1,0 3.5,0a1.75,1.75 0 1,0 -3.5,0M130.78,96.80a1.75,1.75 0 1,0 3.5,0a1.75,1.75 0 1,0 -3.5,0M139.37,96.80a1.75,1.75 0 1,0 3.5,0a1.75,1.75 0 1,0 -3.5,0M147.96,96.80a1.75,1.75 0 1,0 3.5,0a1.75,1.75 0 1,0 -3.5,0M156.55,96.80a1.75,1.75 0 1,0 3.5,0a1.75,1.75 0 1,0 -3.5,0M100.72,105.38a1.75,1.75 0 1,0 3.5,0a1.75,1.75 0 1,0 -3.5,0M109.31,105.38a1.75,1.75 0 1,0 3.5,0a1.75,1.75 0 1,0 -3.5,0M117.90,105.38a1.75,1.75 0 1,0 3.5,0a1.75,1.75 0 1,0 -3.5,0M126.48,105.38a1.75,1.75 0 1,0 3.5,0a1.75,1.75 0 1,0 -3.5,0M135.07,105.38a1.75,1.75 0 1,0 3.5,0a1.75,1.75 0 1,0 -3.5,0M143.67,105.38a1.75,1.75 0 1,0 3.5,0a1.75,1.75 0 1,0 -3.5,0M152.25,105.38a1.75,1.75 0 1,0 3.5,0a1.75,1.75 0 1,0 -3.5,0M160.84,105.38a1.75,1.75 0 1,0 3.5,0a1.75,1.75 0 1,0 -3.5,0M169.44,105.38a1.75,1.75 0 1,0 3.5,0a1.75,1.75 0 1,0 -3.5,0M178.03,105.38a1.75,1.75 0 1,0 3.5,0a1.75,1.75 0 1,0 -3.5,0M105.01,113.95a1.75,1.75 0 1,0 3.5,0a1.75,1.75 0 1,0 -3.5,0M113.60,113.95a1.75,1.75 0 1,0 3.5,0a1.75,1.75 0 1,0 -3.5,0M122.19,113.95a1.75,1.75 0 1,0 3.5,0a1.75,1.75 0 1,0 -3.5,0M130.78,113.95a1.75,1.75 0 1,0 3.5,0a1.75,1.75 0 1,0 -3.5,0M139.37,113.95a1.75,1.75 0 1,0 3.5,0a1.75,1.75 0 1,0 -3.5,0M147.96,113.95a1.75,1.75 0 1,0 3.5,0a1.75,1.75 0 1,0 -3.5,0M156.55,113.95a1.75,1.75 0 1,0 3.5,0a1.75,1.75 0 1,0 -3.5,0M100.72,122.53a1.75,1.75 0 1,0 3.5,0a1.75,1.75 0 1,0 -3.5,0M109.31,122.53a1.75,1.75 0 1,0 3.5,0a1.75,1.75 0 1,0 -3.5,0M117.90,122.53a1.75,1.75 0 1,0 3.5,0a1.75,1.75 0 1,0 -3.5,0M126.48,122.53a1.75,1.75 0 1,0 3.5,0a1.75,1.75 0 1,0 -3.5,0M135.07,122.53a1.75,1.75 0 1,0 3.5,0a1.75,1.75 0 1,0 -3.5,0M143.67,122.53a1.75,1.75 0 1,0 3.5,0a1.75,1.75 0 1,0 -3.5,0M152.25,122.53a1.75,1.75 0 1,0 3.5,0a1.75,1.75 0 1,0 -3.5,0M105.01,131.10a1.75,1.75 0 1,0 3.5,0a1.75,1.75 0 1,0 -3.5,0M113.60,131.10a1.75,1.75 0 1,0 3.5,0a1.75,1.75 0 1,0 -3.5,0M122.19,131.10a1.75,1.75 0 1,0 3.5,0a1.75,1.75 0 1,0 -3.5,0M130.78,131.10a1.75,1.75 0 1,0 3.5,0a1.75,1.75 0 1,0 -3.5,0M139.37,131.10a1.75,1.75 0 1,0 3.5,0a1.75,1.75 0 1,0 -3.5,0M147.96,131.10a1.75,1.75 0 1,0 3.5,0a1.75,1.75 0 1,0 -3.5,0M182.32,131.10a1.75,1.75 0 1,0 3.5,0a1.75,1.75 0 1,0 -3.5,0M109.31,139.68a1.75,1.75 0 1,0 3.5,0a1.75,1.75 0 1,0 -3.5,0M117.90,139.68a1.75,1.75 0 1,0 3.5,0a1.75,1.75 0 1,0 -3.5,0M126.48,139.68a1.75,1.75 0 1,0 3.5,0a1.75,1.75 0 1,0 -3.5,0M135.07,139.68a1.75,1.75 0 1,0 3.5,0a1.75,1.75 0 1,0 -3.5,0M143.67,139.68a1.75,1.75 0 1,0 3.5,0a1.75,1.75 0 1,0 -3.5,0M152.25,139.68a1.75,1.75 0 1,0 3.5,0a1.75,1.75 0 1,0 -3.5,0M160.84,139.68a1.75,1.75 0 1,0 3.5,0a1.75,1.75 0 1,0 -3.5,0M169.44,139.68a1.75,1.75 0 1,0 3.5,0a1.75,1.75 0 1,0 -3.5,0M178.03,139.68a1.75,1.75 0 1,0 3.5,0a1.75,1.75 0 1,0 -3.5,0M113.60,148.25a1.75,1.75 0 1,0 3.5,0a1.75,1.75 0 1,0 -3.5,0M122.19,148.25a1.75,1.75 0 1,0 3.5,0a1.75,1.75 0 1,0 -3.5,0M130.78,148.25a1.75,1.75 0 1,0 3.5,0a1.75,1.75 0 1,0 -3.5,0M139.37,148.25a1.75,1.75 0 1,0 3.5,0a1.75,1.75 0 1,0 -3.5,0M147.96,148.25a1.75,1.75 0 1,0 3.5,0a1.75,1.75 0 1,0 -3.5,0M156.55,148.25a1.75,1.75 0 1,0 3.5,0a1.75,1.75 0 1,0 -3.5,0M165.14,148.25a1.75,1.75 0 1,0 3.5,0a1.75,1.75 0 1,0 -3.5,0M117.90,156.82a1.75,1.75 0 1,0 3.5,0a1.75,1.75 0 1,0 -3.5,0M126.48,156.82a1.75,1.75 0 1,0 3.5,0a1.75,1.75 0 1,0 -3.5,0M135.07,156.82a1.75,1.75 0 1,0 3.5,0a1.75,1.75 0 1,0 -3.5,0M143.67,156.82a1.75,1.75 0 1,0 3.5,0a1.75,1.75 0 1,0 -3.5,0M152.25,156.82a1.75,1.75 0 1,0 3.5,0a1.75,1.75 0 1,0 -3.5,0M122.19,165.40a1.75,1.75 0 1,0 3.5,0a1.75,1.75 0 1,0 -3.5,0M130.78,165.40a1.75,1.75 0 1,0 3.5,0a1.75,1.75 0 1,0 -3.5,0" fill="#000" clip-path="url(#land)"/>
<path d="M67.4,63.6 L74.6,64.1 L78.2,59.8 L82.7,58.9 L86.1,55.5 L80.4,48.5 L93.5,43.6 L100.7,44.9 L105.0,48.1 L110.4,50.8 L118.5,57.1 L126.1,64.1 L137.4,64.7 L140.4,58.8 L141.7,58.2 L146.4,58.5 L148.3,60.1 L147.0,61.7 L145.1,62.6 L143.5,63.5 L143.2,66.4 L145.1,68.3 L148.3,68.9 L150.2,72.0 L151.8,74.7 L153.9,76.9 L156.1,79.0 L158.5,81.2 L159.3,82.8 L158.5,85.0 L159.6,87.1 L161.5,89.8 L162.6,92.5 L163.6,93.5 L163.3,89.0 L163.1,85.5 L164.7,84.7 L166.6,85.0 L168.0,86.6 L168.2,89.3 L167.7,92.0 L167.2,93.6 L165.8,95.2 L166.3,96.3 L168.5,97.9 L170.1,99.0 L172.8,97.9 L175.2,97.9 L180.6,97.9 L184.2,96.6 L187.8,93.4 L192.3,89.4 L195.0,85.8 L196.3,83.5 L196.8,86.7 L196.3,89.4 L196.2,93.6 L197.5,96.3 L202.0,99.9 L209.2,101.7 L213.7,105.3 L217.3,108.9 L216.0,111.6 L212.8,116.1 L209.7,120.2 L206.5,121.5 L204.7,125.1 L204.7,129.6 L202.0,132.3 L198.4,134.1 L196.5,137.3 L192.6,138.8 L190.1,140.8 L187.6,143.3 L182.7,144.3 L176.7,145.7 L172.8,147.7 L171.3,151.7 L167.8,153.2 L161.9,155.1 L155.9,157.1 L152.3,159.5 L148.4,161.5 L142.4,163.5 L136.5,166.0 L130.6,168.4 L124.7,170.4 L120.7,170.9 L117.7,168.4 L116.7,162.5 L116.2,160.0 L115.1,155.9 L114.0,153.2 L114.6,150.5 L115.4,147.8 L114.6,146.2 L113.0,143.5 L111.9,140.8 L109.2,138.6 L106.5,135.4 L104.9,130.9 L102.5,125.9 L98.0,122.3 L93.5,117.8 L92.6,112.4 L91.7,107.0 L89.9,102.5 L87.2,98.9 L83.6,97.1 L81.3,93.5 L81.3,89.9 L77.7,84.5 L74.6,81.4 L71.0,76.0 L65.6,71.9Z" fill="none" stroke="#000" stroke-width="1.4" stroke-linejoin="round"/>
<path d="M137.0,65.1 L148.0,68.9" fill="none" stroke="#000" stroke-width="1.25"/>
<path d="M167.8,98.3 L172.9,106.0 L181.5,106.5 L189.4,107.3" fill="none" stroke="#000" stroke-width="1.25"/>
<path d="M189.4,107.3 L191.4,99.3 L193.9,93.6 L196.2,93.2" fill="none" stroke="#000" stroke-width="1.25"/>
<path d="M189.4,107.3 L192.1,109.4 L191.7,113.4 L189.9,119.7 L188.5,124.2 L179.7,127.9 L170.8,130.9" fill="none" stroke="#000" stroke-width="1.25"/>
<path d="M170.8,130.9 L176.2,145.2" fill="none" stroke="#000" stroke-width="1.25"/>
<path d="M115.4,147.8 L117.3,144.0 L117.3,141.3 L118.6,140.3 L121.6,140.5 L128.6,140.3 L136.5,140.8 L140.5,143.7 L143.4,141.7 L145.4,137.8 L149.4,134.3 L154.3,132.8 L159.9,132.4 L170.8,130.9" fill="none" stroke="#000" stroke-width="1.25"/>
<ellipse cx="181.8" cy="171.3" rx="3.2" ry="1.1" fill="#1a7e76" stroke="#000" stroke-width="1.4"/>
<circle cx="171.3" cy="173.3" r="0.6" fill="#000"/>
<ellipse cx="109.7" cy="145.0" rx="1.9" ry="0.9" transform="rotate(40 109.7 145.0)" fill="#000"/>
<rect x="62.4" y="34.6" width="156.0" height="139.6" fill="none" stroke="#000" stroke-width="1.1"/>
<line x1="55.1" y1="174.17" x2="62.4" y2="174.17" stroke="#000" stroke-width="2.5"/>
<line x1="55.1" y1="155.80" x2="62.4" y2="155.80" stroke="#000" stroke-width="2.5"/>
<line x1="55.1" y1="137.17" x2="62.4" y2="137.17" stroke="#000" stroke-width="2.5"/>
<line x1="55.1" y1="118.22" x2="62.4" y2="118.22" stroke="#000" stroke-width="2.5"/>
<line x1="55.1" y1="98.88" x2="62.4" y2="98.88" stroke="#000" stroke-width="2.5"/>
<line x1="55.1" y1="79.09" x2="62.4" y2="79.09" stroke="#000" stroke-width="2.5"/>
<line x1="55.1" y1="58.76" x2="62.4" y2="58.76" stroke="#000" stroke-width="2.5"/>
<line x1="55.1" y1="37.81" x2="62.4" y2="37.81" stroke="#000" stroke-width="2.5"/>
<line x1="74.20" y1="174.2" x2="74.20" y2="181.5" stroke="#000" stroke-width="2.5"/>
<line x1="109.92" y1="174.2" x2="109.92" y2="181.5" stroke="#000" stroke-width="2.5"/>
<line x1="145.65" y1="174.2" x2="145.65" y2="181.5" stroke="#000" stroke-width="2.5"/>
<line x1="181.37" y1="174.2" x2="181.37" y2="181.5" stroke="#000" stroke-width="2.5"/>
<line x1="217.10" y1="174.2" x2="217.10" y2="181.5" stroke="#000" stroke-width="2.5"/>
</g>
<g class="t"><text x="56.45" y="10.50" font-size="12.70" textLength="180.42" lengthAdjust="spacingAndGlyphs">Near Future (2021-2050)</text>
<text x="251.15" y="10.50" font-size="12.70" textLength="172.42" lengthAdjust="spacingAndGlyphs">Mid Future (2051-2080)</text>
<text x="446.06" y="10.50" font-size="12.70" textLength="168.82" lengthAdjust="spacingAndGlyphs">Far Future (2081-2100)</text>
<text x="63.40" y="26.48" font-size="11.30" textLength="17.18" lengthAdjust="spacingAndGlyphs">(a)</text>
<text x="255.43" y="26.48" font-size="11.30" textLength="17.13" lengthAdjust="spacingAndGlyphs">(b)</text>
<text x="447.60" y="26.48" font-size="11.30" textLength="17.18" lengthAdjust="spacingAndGlyphs">(c)</text>
<text x="63.43" y="202.58" font-size="11.30" textLength="17.13" lengthAdjust="spacingAndGlyphs">(d)</text>
<text x="255.40" y="202.58" font-size="11.30" textLength="17.18" lengthAdjust="spacingAndGlyphs">(e)</text>
<text x="447.42" y="202.58" font-size="11.30" textLength="17.54" lengthAdjust="spacingAndGlyphs">(f)</text>
<text x="63.43" y="385.28" font-size="11.30" textLength="17.13" lengthAdjust="spacingAndGlyphs">(g)</text>
<text x="255.43" y="385.28" font-size="11.30" textLength="17.13" lengthAdjust="spacingAndGlyphs">(h)</text>
<text x="447.36" y="385.28" font-size="11.30" textLength="17.67" lengthAdjust="spacingAndGlyphs">(i)</text>
<text transform="rotate(-90)" x="-132.14" y="10.70" font-size="13.10" textLength="53.86" lengthAdjust="spacingAndGlyphs">SSP126</text>
<text transform="rotate(-90)" x="-309.64" y="10.70" font-size="13.10" textLength="53.74" lengthAdjust="spacingAndGlyphs">SSP245</text>
<text transform="rotate(-90)" x="-491.74" y="10.70" font-size="13.10" textLength="53.94" lengthAdjust="spacingAndGlyphs">SSP585</text>
<text x="18.73" y="179.37" font-size="12.00" textLength="31.22" lengthAdjust="spacingAndGlyphs">12°N</text>
<text x="18.73" y="161.00" font-size="12.00" textLength="31.22" lengthAdjust="spacingAndGlyphs">15°N</text>
<text x="18.73" y="142.37" font-size="12.00" textLength="31.22" lengthAdjust="spacingAndGlyphs">18°N</text>
<text x="19.13" y="123.42" font-size="12.00" textLength="30.81" lengthAdjust="spacingAndGlyphs">21°N</text>
<text x="19.13" y="104.08" font-size="12.00" textLength="30.81" lengthAdjust="spacingAndGlyphs">24°N</text>
<text x="19.13" y="84.29" font-size="12.00" textLength="30.81" lengthAdjust="spacingAndGlyphs">27°N</text>
<text x="19.30" y="63.96" font-size="12.00" textLength="30.64" lengthAdjust="spacingAndGlyphs">30°N</text>
<text x="19.30" y="43.01" font-size="12.00" textLength="30.64" lengthAdjust="spacingAndGlyphs">33°N</text>
<text x="18.73" y="356.77" font-size="12.00" textLength="31.22" lengthAdjust="spacingAndGlyphs">12°N</text>
<text x="18.73" y="338.40" font-size="12.00" textLength="31.22" lengthAdjust="spacingAndGlyphs">15°N</text>
<text x="18.73" y="319.77" font-size="12.00" textLength="31.22" lengthAdjust="spacingAndGlyphs">18°N</text>
<text x="19.13" y="300.82" font-size="12.00" textLength="30.81" lengthAdjust="spacingAndGlyphs">21°N</text>
<text x="19.13" y="281.48" font-size="12.00" textLength="30.81" lengthAdjust="spacingAndGlyphs">24°N</text>
<text x="19.13" y="261.69" font-size="12.00" textLength="30.81" lengthAdjust="spacingAndGlyphs">27°N</text>
<text x="19.30" y="241.36" font-size="12.00" textLength="30.64" lengthAdjust="spacingAndGlyphs">30°N</text>
<text x="19.30" y="220.41" font-size="12.00" textLength="30.64" lengthAdjust="spacingAndGlyphs">33°N</text>
<text x="18.73" y="538.57" font-size="12.00" textLength="31.22" lengthAdjust="spacingAndGlyphs">12°N</text>
<text x="18.73" y="520.20" font-size="12.00" textLength="31.22" lengthAdjust="spacingAndGlyphs">15°N</text>
<text x="18.73" y="501.57" font-size="12.00" textLength="31.22" lengthAdjust="spacingAndGlyphs">18°N</text>
<text x="19.13" y="482.62" font-size="12.00" textLength="30.81" lengthAdjust="spacingAndGlyphs">21°N</text>
<text x="19.13" y="463.28" font-size="12.00" textLength="30.81" lengthAdjust="spacingAndGlyphs">24°N</text>
<text x="19.13" y="443.49" font-size="12.00" textLength="30.81" lengthAdjust="spacingAndGlyphs">27°N</text>
<text x="19.30" y="423.16" font-size="12.00" textLength="30.64" lengthAdjust="spacingAndGlyphs">30°N</text>
<text x="19.30" y="402.21" font-size="12.00" textLength="30.64" lengthAdjust="spacingAndGlyphs">33°N</text>
<text x="60.16" y="554.60" font-size="12.10" textLength="28.29" lengthAdjust="spacingAndGlyphs">36°E</text>
<text x="252.16" y="554.60" font-size="12.10" textLength="28.29" lengthAdjust="spacingAndGlyphs">36°E</text>
<text x="444.36" y="554.60" font-size="12.10" textLength="28.29" lengthAdjust="spacingAndGlyphs">36°E</text>
<text x="95.99" y="554.60" font-size="12.10" textLength="28.19" lengthAdjust="spacingAndGlyphs">42°E</text>
<text x="287.99" y="554.60" font-size="12.10" textLength="28.19" lengthAdjust="spacingAndGlyphs">42°E</text>
<text x="480.19" y="554.60" font-size="12.10" textLength="28.19" lengthAdjust="spacingAndGlyphs">42°E</text>
<text x="131.72" y="554.60" font-size="12.10" textLength="28.19" lengthAdjust="spacingAndGlyphs">48°E</text>
<text x="323.72" y="554.60" font-size="12.10" textLength="28.19" lengthAdjust="spacingAndGlyphs">48°E</text>
<text x="515.92" y="554.60" font-size="12.10" textLength="28.19" lengthAdjust="spacingAndGlyphs">48°E</text>
<text x="167.23" y="554.60" font-size="12.10" textLength="28.40" lengthAdjust="spacingAndGlyphs">54°E</text>
<text x="359.23" y="554.60" font-size="12.10" textLength="28.40" lengthAdjust="spacingAndGlyphs">54°E</text>
<text x="551.43" y="554.60" font-size="12.10" textLength="28.40" lengthAdjust="spacingAndGlyphs">54°E</text>
<text x="202.88" y="554.60" font-size="12.10" textLength="28.48" lengthAdjust="spacingAndGlyphs">60°E</text>
<text x="394.88" y="554.60" font-size="12.10" textLength="28.48" lengthAdjust="spacingAndGlyphs">60°E</text>
<text x="587.08" y="554.60" font-size="12.10" textLength="28.48" lengthAdjust="spacingAndGlyphs">60°E</text>
<rect x="615.6" y="132.10" width="14.60" height="22.81" fill="#005046"/>
<rect x="615.6" y="154.61" width="14.60" height="22.81" fill="#1a7e76"/>
<rect x="615.6" y="177.12" width="14.60" height="22.81" fill="#58b0a7"/>
<rect x="615.6" y="199.63" width="14.60" height="22.81" fill="#a3dbd3"/>
<rect x="615.6" y="222.14" width="14.60" height="22.81" fill="#def0ed"/>
<rect x="615.6" y="244.65" width="14.60" height="22.81" fill="#f5efdc"/>
<rect x="615.6" y="267.16" width="14.60" height="22.81" fill="#ead59f"/>
<rect x="615.6" y="289.67" width="14.60" height="22.81" fill="#cfa256"/>
<rect x="615.6" y="312.18" width="14.60" height="22.81" fill="#a5691b"/>
<rect x="615.6" y="334.69" width="14.60" height="22.81" fill="#6e4007"/>
<path d="M615.6,132.40 L622.90,120.6 L630.2,132.40Z" fill="#003c30"/>
<path d="M615.6,356.90 L622.90,368.8 L630.2,356.90Z" fill="#543005"/>
<path d="M615.6,132.10 L622.90,120.6 L630.2,132.10 L630.2,357.20 L622.90,368.8 L615.6,357.20Z" fill="none" stroke="#222" stroke-width="0.9"/>
<line x1="630.2" y1="154.61" x2="633.5" y2="154.61" stroke="#000" stroke-width="0.9"/>
<text x="634.01" y="159.81" font-size="14.90" textLength="19.29" lengthAdjust="spacingAndGlyphs">20</text>
<line x1="630.2" y1="199.63" x2="633.5" y2="199.63" stroke="#000" stroke-width="0.9"/>
<text x="633.50" y="204.83" font-size="14.90" textLength="19.82" lengthAdjust="spacingAndGlyphs">10</text>
<line x1="630.2" y1="244.65" x2="633.5" y2="244.65" stroke="#000" stroke-width="0.9"/>
<text x="633.26" y="249.85" font-size="14.90" textLength="10.28" lengthAdjust="spacingAndGlyphs">0</text>
<line x1="630.2" y1="289.67" x2="633.5" y2="289.67" stroke="#000" stroke-width="0.9"/>
<text x="634.56" y="294.87" font-size="14.90" textLength="29.95" lengthAdjust="spacingAndGlyphs">−10</text>
<line x1="630.2" y1="334.69" x2="633.5" y2="334.69" stroke="#000" stroke-width="0.9"/>
<text x="634.56" y="339.89" font-size="14.90" textLength="29.95" lengthAdjust="spacingAndGlyphs">−20</text>
<text transform="rotate(-90)" x="-374.72" y="681.10" font-size="14.70" textLength="254.76" lengthAdjust="spacingAndGlyphs">Perecentage change in SDII (%)</text></g>
</svg></body></html>
